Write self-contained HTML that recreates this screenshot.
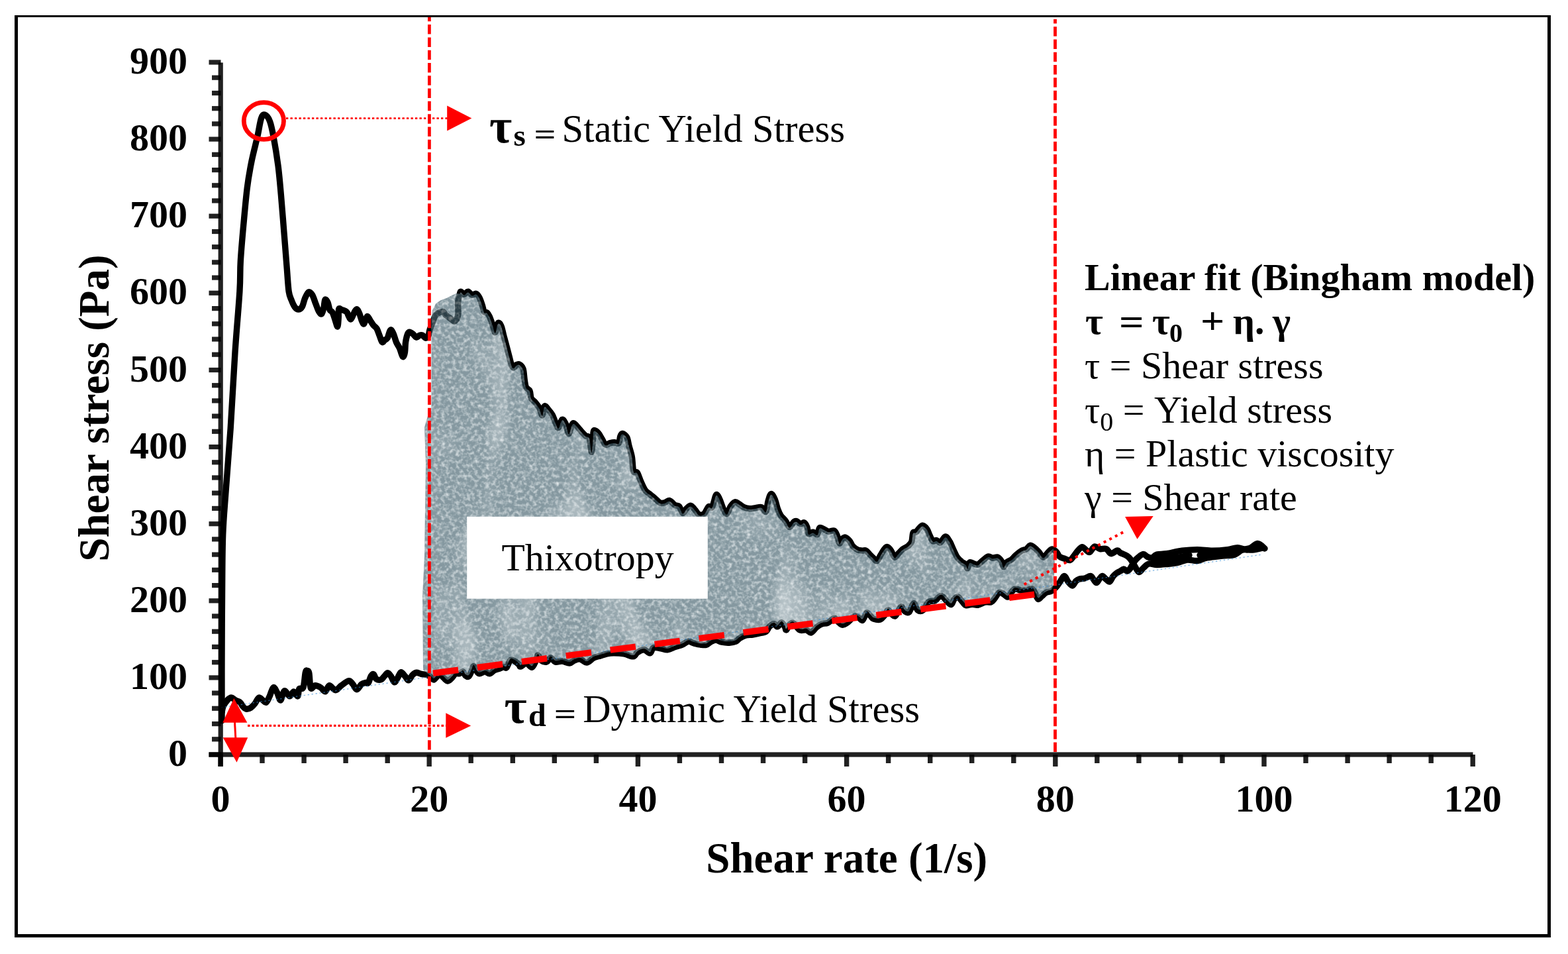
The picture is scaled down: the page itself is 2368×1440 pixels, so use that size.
<!DOCTYPE html>
<html><head><meta charset="utf-8"><style>
html,body{margin:0;padding:0;background:#fff;width:2368px;height:1440px;overflow:hidden}
svg{display:block}
text{font-family:"Liberation Serif","DejaVu Serif",serif;fill:#000}
.b{font-weight:bold}
</style></head><body>
<svg width="2368" height="1440" viewBox="0 0 2368 1440">
<rect x="0" y="0" width="2368" height="1440" fill="#fff"/>
<rect x="22" y="23" width="5" height="1392" fill="#000"/>
<rect x="22" y="23" width="2320" height="3" fill="#000"/>
<rect x="2337" y="23" width="5" height="1392" fill="#000"/>
<rect x="22" y="1410" width="2320" height="5" fill="#000"/>

<!-- black curves -->
<g fill="none" stroke="#000" stroke-width="9.4" stroke-linejoin="round" stroke-linecap="round">
<path d="M335.0,1088.0 C335.0,1086.3 335.0,1092.7 335.0,1078.0 C335.0,1063.3 334.9,1029.7 335.0,1000.0 C335.1,970.3 335.2,932.2 335.5,900.0 C335.8,867.8 335.7,834.0 336.7,807.0 C337.7,780.0 339.4,765.0 341.3,738.2 C343.2,711.4 345.9,680.8 348.2,646.4 C350.5,612.0 352.7,566.1 355.0,531.7 C357.3,497.3 360.5,462.9 361.9,440.0 C363.3,417.1 362.3,411.2 363.3,394.4 C364.3,377.5 366.1,357.4 367.8,338.9 C369.5,320.4 371.3,299.2 373.3,283.3 C375.3,267.4 377.4,256.2 380.0,243.3 C382.6,230.4 386.5,216.4 388.9,205.6 C391.3,194.8 392.6,184.0 394.5,178.6 C396.4,173.2 397.8,172.4 400.0,173.2 C402.2,174.0 405.4,177.5 407.6,183.3 C409.8,189.1 411.2,196.7 413.3,207.8 C415.4,218.9 418.1,235.6 420.0,250.0 C421.9,264.4 422.9,277.7 424.4,294.4 C425.9,311.1 427.4,331.5 428.9,350.0 C430.4,368.5 432.1,390.6 433.3,405.6 C434.5,420.7 435.0,432.3 436.2,440.3 C437.4,448.3 438.8,449.5 440.3,453.4 C441.8,457.3 443.5,461.3 445.3,463.6 C447.1,465.9 449.0,467.3 450.9,467.1 C452.8,466.9 454.9,465.4 456.5,462.6 C458.1,459.8 458.9,454.0 460.5,450.4 C462.1,446.8 464.2,441.6 466.1,440.8 C468.0,440.0 469.9,442.4 471.7,445.3 C473.5,448.2 475.1,454.3 476.8,458.5 C478.5,462.7 480.3,468.2 481.8,470.7 C483.3,473.2 484.7,474.7 485.9,473.7 C487.1,472.7 488.1,468.2 488.9,464.6 C489.7,461.1 489.9,453.8 490.9,452.4 C491.9,451.0 493.8,454.0 495.0,456.5 C496.2,459.0 496.8,465.1 498.0,467.6 C499.2,470.1 500.8,469.2 502.1,471.7 C503.5,474.2 504.8,479.2 506.1,482.8 C507.4,486.4 508.9,493.3 509.7,493.0 C510.5,492.7 510.9,485.2 511.2,480.8 C511.5,476.4 510.9,468.8 511.7,466.6 C512.5,464.4 514.3,466.9 516.3,467.6 C518.2,468.3 521.7,469.2 523.4,470.7 C525.1,472.2 525.3,474.9 526.4,476.8 C527.5,478.7 528.6,482.5 530.0,481.8 C531.4,481.1 533.1,475.2 534.5,472.7 C535.9,470.2 537.2,466.6 538.6,466.6 C540.0,466.6 541.2,469.6 542.6,472.7 C544.0,475.8 545.5,482.2 546.7,484.9 C547.9,487.6 548.7,489.6 549.7,488.9 C550.7,488.2 551.9,482.6 552.8,480.8 C553.7,479.0 554.1,477.1 555.3,477.8 C556.5,478.5 558.5,482.7 559.9,484.9 C561.3,487.1 562.4,489.0 563.9,490.9 C565.4,492.8 567.5,493.5 569.0,496.0 C570.5,498.5 571.6,502.7 573.0,506.1 C574.4,509.5 575.8,515.1 577.1,516.3 C578.5,517.5 579.8,514.2 581.1,513.2 C582.5,512.2 584.0,512.2 585.2,510.2 C586.4,508.2 587.3,503.1 588.2,501.1 C589.1,499.1 589.8,497.5 590.8,498.0 C591.8,498.5 593.0,501.1 594.3,504.1 C595.6,507.2 596.9,512.8 598.4,516.3 C599.9,519.8 602.0,522.4 603.4,525.4 C604.8,528.4 605.6,532.3 606.5,534.5 C607.4,536.7 608.2,539.1 609.0,538.6 C609.8,538.1 610.9,535.2 611.5,531.5 C612.1,527.8 611.9,520.9 612.6,516.3 C613.3,511.7 614.6,506.6 615.6,504.1 C616.6,501.6 617.2,501.1 618.6,501.1 C620.0,501.1 622.0,502.8 623.7,504.1 C625.4,505.5 627.1,508.9 628.8,509.2 C630.5,509.5 632.3,506.6 633.8,506.1 C635.3,505.6 636.4,505.4 637.9,506.1 C639.4,506.8 641.5,510.2 643.0,510.2 C644.5,510.2 646.0,508.1 647.0,506.1 C648.0,504.1 648.0,501.2 649.0,498.0 C650.0,494.8 651.8,490.4 653.2,486.9 C654.6,483.4 655.5,479.3 657.2,476.8 C658.9,474.3 661.3,472.7 663.3,471.7 C665.3,470.7 667.7,470.0 669.4,470.7 C671.1,471.4 671.5,474.0 673.4,475.7 C675.2,477.4 678.3,479.3 680.5,480.8 C682.7,482.3 684.7,485.8 686.6,484.9 C688.5,484.0 690.9,480.6 691.7,475.7 C692.6,470.8 691.2,461.1 691.7,455.5 C692.2,449.9 694.0,444.8 694.7,442.3 C695.5,439.8 695.2,440.0 696.2,440.3 C697.2,440.6 699.0,444.3 700.8,444.3 C702.6,444.3 704.9,440.1 706.9,440.3 C708.9,440.5 711.0,444.8 713.0,445.3 C715.0,445.8 717.2,442.6 719.1,443.3 C721.0,444.0 722.6,446.5 724.1,449.4 C725.6,452.3 727.0,456.9 728.2,460.5 C729.4,464.1 730.0,468.8 731.2,470.7 C732.4,472.6 733.9,470.5 735.3,471.7 C736.6,472.9 737.9,474.9 739.3,477.8 C740.6,480.7 742.2,485.4 743.4,488.9 C744.6,492.4 745.6,497.0 746.4,499.0 C747.2,501.0 747.5,502.8 748.4,501.1 C749.2,499.4 750.5,491.1 751.5,488.9 C752.5,486.7 753.5,487.0 754.5,487.9 C755.5,488.8 756.6,491.0 757.6,494.0 C758.6,497.0 759.4,501.6 760.6,506.1 C761.8,510.7 763.4,516.2 764.7,521.3 C766.1,526.4 767.4,531.5 768.7,536.6 C770.1,541.7 771.6,548.8 772.8,551.8 C774.0,554.8 774.6,555.0 775.8,554.8 C777.0,554.6 778.5,551.5 779.9,550.7 C781.3,549.9 782.7,549.0 784.4,550.0 C786.1,551.0 788.7,552.8 790.0,556.7 C791.3,560.6 791.5,568.7 792.2,573.3 C792.9,577.9 793.1,581.6 794.4,584.4 C795.7,587.2 798.7,587.2 800.0,590.0 C801.3,592.8 800.9,598.3 802.2,601.1 C803.5,603.9 805.8,604.3 807.8,606.7 C809.8,609.1 812.5,612.3 814.4,615.6 C816.2,618.9 817.6,627.1 818.9,626.7 C820.2,626.3 820.7,614.8 822.2,613.3 C823.7,611.8 825.8,615.6 827.8,617.8 C829.8,620.0 832.5,623.4 834.4,626.7 C836.2,630.0 837.4,634.6 838.9,637.8 C840.4,640.9 841.6,646.4 843.3,645.6 C845.0,644.9 847.0,634.2 848.9,633.3 C850.8,632.4 852.7,636.5 854.4,640.0 C856.1,643.5 857.4,654.0 858.9,654.4 C860.4,654.8 862.0,644.8 863.3,642.2 C864.6,639.6 865.0,638.3 866.7,638.9 C868.4,639.5 871.3,643.4 873.3,645.6 C875.3,647.8 877.0,650.2 878.9,652.2 C880.8,654.2 882.5,656.3 884.4,657.8 C886.2,659.3 888.5,657.0 890.0,661.1 C891.5,665.2 892.4,682.0 893.3,682.2 C894.2,682.4 895.0,667.6 895.6,662.2 C896.2,656.8 895.4,651.5 896.7,650.0 C898.0,648.5 901.3,651.3 903.3,653.3 C905.3,655.3 907.0,659.2 908.9,662.2 C910.8,665.2 912.4,670.0 914.4,671.1 C916.4,672.2 918.9,669.5 921.1,668.9 C923.3,668.3 925.6,667.8 927.8,667.8 C930.0,667.8 932.9,670.4 934.4,668.9 C935.9,667.4 935.8,661.3 936.7,658.9 C937.6,656.5 938.3,654.2 940.0,654.4 C941.7,654.6 945.0,656.9 946.7,660.0 C948.4,663.1 948.7,668.3 950.0,673.3 C951.3,678.3 953.3,683.7 954.4,690.0 C955.5,696.3 955.4,707.2 956.7,711.1 C958.0,715.0 960.4,710.7 962.2,713.3 C964.1,715.9 965.8,722.2 967.8,726.7 C969.8,731.2 972.2,736.9 974.4,740.0 C976.6,743.1 978.9,743.8 981.1,745.6 C983.3,747.5 985.2,748.9 987.8,751.1 C990.4,753.3 994.1,757.6 996.7,758.9 C999.3,760.2 1000.9,759.4 1003.3,758.9 C1005.7,758.4 1008.5,755.0 1011.1,755.6 C1013.7,756.2 1016.5,760.7 1018.9,762.2 C1021.3,763.7 1023.6,762.4 1025.6,764.4 C1027.6,766.4 1029.2,773.8 1031.1,774.4 C1032.9,775.0 1034.7,769.6 1036.7,767.8 C1038.7,765.9 1041.1,762.9 1043.3,763.3 C1045.5,763.7 1048.0,767.8 1050.0,770.0 C1052.0,772.2 1053.4,775.8 1055.6,776.7 C1057.8,777.6 1060.9,777.6 1063.3,775.6 C1065.7,773.6 1068.0,766.6 1070.0,765.0 C1072.0,763.4 1073.7,767.2 1075.0,766.0 C1076.3,764.8 1076.9,761.2 1078.0,758.0 C1079.1,754.8 1080.2,747.5 1081.7,746.7 C1083.2,745.9 1085.0,749.8 1086.7,753.3 C1088.5,756.8 1090.4,764.1 1092.2,767.8 C1094.0,771.5 1096.0,776.2 1097.8,775.6 C1099.6,775.0 1101.3,767.4 1103.3,764.4 C1105.3,761.4 1107.8,758.3 1110.0,757.8 C1112.2,757.2 1114.5,759.8 1116.7,761.1 C1118.9,762.4 1120.7,764.5 1123.3,765.6 C1125.9,766.7 1129.2,767.6 1132.2,767.8 C1135.2,768.0 1138.1,767.1 1141.1,766.7 C1144.1,766.3 1147.4,764.7 1150.0,765.6 C1152.6,766.5 1155.0,773.7 1156.7,772.2 C1158.4,770.7 1158.7,761.1 1160.0,756.7 C1161.3,752.3 1162.7,746.2 1164.4,745.6 C1166.1,745.0 1168.3,749.6 1170.0,753.3 C1171.7,757.0 1172.9,763.7 1174.4,767.8 C1175.9,771.9 1176.9,774.6 1178.9,777.8 C1181.0,780.9 1184.5,783.7 1186.7,786.7 C1188.9,789.7 1190.2,795.4 1192.2,795.6 C1194.2,795.8 1197.1,789.3 1198.9,787.8 C1200.8,786.3 1201.6,786.2 1203.3,786.7 C1205.0,787.2 1207.1,790.7 1208.9,791.1 C1210.8,791.5 1212.7,788.1 1214.4,788.9 C1216.1,789.6 1217.8,792.8 1218.9,795.6 C1220.0,798.4 1219.6,804.3 1221.1,805.6 C1222.6,806.9 1225.6,803.1 1227.8,803.3 C1230.0,803.5 1232.7,807.8 1234.4,806.7 C1236.1,805.6 1236.1,798.0 1237.8,796.7 C1239.5,795.4 1242.2,798.0 1244.4,798.9 C1246.6,799.8 1248.5,801.8 1251.1,802.2 C1253.7,802.6 1257.8,800.0 1260.0,801.1 C1262.2,802.2 1263.1,805.8 1264.4,808.9 C1265.7,812.0 1266.5,819.3 1267.8,820.0 C1269.1,820.7 1270.7,814.8 1272.2,813.3 C1273.7,811.8 1274.9,810.5 1276.7,811.1 C1278.5,811.7 1281.5,814.5 1283.3,816.7 C1285.1,818.9 1285.8,822.2 1287.8,824.4 C1289.8,826.6 1293.2,828.9 1295.6,830.0 C1298.0,831.1 1300.2,830.9 1302.2,831.1 C1304.2,831.3 1306.0,830.2 1307.8,831.1 C1309.6,832.0 1311.4,834.9 1313.3,836.7 C1315.2,838.6 1317.1,840.5 1318.9,842.2 C1320.8,843.9 1322.6,847.4 1324.4,846.7 C1326.2,846.0 1328.1,840.8 1330.0,837.8 C1331.9,834.8 1333.9,830.9 1335.6,828.9 C1337.3,826.9 1338.3,825.2 1340.0,825.6 C1341.7,826.0 1343.8,828.5 1345.6,831.1 C1347.4,833.7 1349.2,840.4 1351.1,841.1 C1352.9,841.9 1354.7,837.6 1356.7,835.6 C1358.7,833.6 1360.9,830.8 1363.3,828.9 C1365.7,827.0 1368.9,826.2 1371.1,824.4 C1373.3,822.5 1375.4,821.1 1376.7,817.8 C1378.0,814.5 1377.8,806.8 1378.9,804.4 C1380.0,802.0 1381.8,804.4 1383.3,803.3 C1384.8,802.2 1386.1,799.5 1387.8,797.8 C1389.5,796.1 1391.3,793.1 1393.3,793.3 C1395.3,793.5 1398.2,796.3 1400.0,798.9 C1401.8,801.5 1402.9,805.9 1404.4,808.9 C1405.9,811.9 1407.2,815.6 1408.9,816.7 C1410.6,817.8 1412.6,815.2 1414.4,815.6 C1416.2,816.0 1417.8,819.8 1420.0,818.9 C1422.2,818.0 1425.4,810.2 1427.8,810.0 C1430.2,809.8 1432.4,814.5 1434.4,817.8 C1436.4,821.1 1438.1,826.1 1440.0,830.0 C1441.9,833.9 1443.6,838.1 1445.6,841.1 C1447.6,844.1 1450.0,845.9 1452.2,847.8 C1454.4,849.6 1457.4,850.5 1458.9,852.2 C1460.4,853.9 1460.2,858.3 1461.1,857.8 C1462.0,857.2 1462.7,850.0 1464.4,848.9 C1466.1,847.8 1469.0,850.5 1471.1,851.1 C1473.1,851.7 1474.7,852.9 1476.7,852.2 C1478.7,851.5 1480.7,848.7 1483.3,846.7 C1485.9,844.7 1489.6,840.8 1492.2,840.0 C1494.8,839.2 1496.5,842.0 1498.9,842.2 C1501.3,842.4 1504.5,840.4 1506.7,841.1 C1508.9,841.9 1510.7,844.3 1512.2,846.7 C1513.7,849.1 1514.3,855.2 1515.6,855.6 C1516.9,856.0 1518.0,850.8 1520.0,848.9 C1522.0,847.0 1525.4,846.2 1527.8,844.4 C1530.2,842.5 1531.8,840.0 1534.4,837.8 C1537.0,835.6 1540.7,832.6 1543.3,831.1 C1545.9,829.6 1548.0,830.2 1550.0,828.9 C1552.0,827.6 1553.6,823.7 1555.6,823.3 C1557.6,822.9 1560.0,825.0 1562.2,826.7 C1564.4,828.4 1566.7,830.9 1568.9,833.3 C1571.1,835.7 1573.2,841.1 1575.6,841.1 C1578.0,841.1 1581.1,835.3 1583.3,833.3 C1585.5,831.3 1586.9,828.9 1588.9,828.9 C1591.0,828.9 1593.8,831.4 1595.6,833.3 C1597.4,835.1 1598.0,838.3 1600.0,840.0 C1602.0,841.7 1605.2,842.4 1607.8,843.3 C1610.4,844.2 1613.4,846.1 1615.6,845.6 C1617.8,845.1 1619.1,842.4 1621.1,840.0 C1623.1,837.6 1625.6,833.5 1627.8,831.1 C1630.0,828.7 1632.2,825.6 1634.4,825.6 C1636.6,825.6 1639.2,829.8 1641.1,831.1 C1643.0,832.4 1643.9,834.3 1645.9,833.3 C1647.9,832.3 1650.4,825.8 1653.0,825.0 C1655.6,824.2 1658.3,828.0 1661.3,828.6 C1664.2,829.2 1668.0,827.4 1670.7,828.6 C1673.5,829.8 1675.0,835.3 1677.8,835.7 C1680.6,836.1 1684.9,831.2 1687.3,831.0 C1689.7,830.8 1689.6,833.2 1692.0,834.5 C1694.4,835.8 1698.9,837.0 1701.6,838.8 C1704.3,840.5 1705.9,842.3 1708.0,845.0 C1710.1,847.7 1712.0,851.9 1714.0,855.0 C1716.0,858.1 1717.8,863.2 1720.0,863.5 C1722.2,863.8 1724.5,859.1 1727.0,857.0 C1729.5,854.9 1731.7,851.8 1735.0,851.0 C1738.3,850.2 1742.5,852.4 1747.0,852.5 C1751.5,852.6 1756.8,852.0 1762.0,851.5 C1767.2,851.0 1772.8,850.6 1778.0,849.5 C1783.2,848.4 1788.0,845.5 1793.0,845.0 C1798.0,844.5 1803.0,847.0 1808.0,846.5 C1813.0,846.0 1816.7,843.2 1823.0,842.0 C1829.3,840.8 1839.2,839.8 1846.0,839.0 C1852.8,838.2 1858.9,838.9 1864.0,837.4 C1869.1,835.9 1871.9,831.2 1876.5,830.0 C1881.1,828.8 1886.5,830.5 1891.6,830.0 C1896.6,829.5 1904.3,827.5 1906.8,827.0"/>
<path d="M335.0,1075.0 C335.4,1073.5 335.8,1069.1 337.2,1066.1 C338.6,1063.1 341.3,1059.2 343.3,1057.0 C345.3,1054.8 347.4,1053.0 349.4,1053.0 C351.4,1053.0 353.3,1055.8 355.5,1057.0 C357.7,1058.2 360.8,1058.6 362.6,1060.1 C364.5,1061.6 365.1,1064.4 366.6,1066.1 C368.1,1067.8 369.7,1069.8 371.7,1070.2 C373.7,1070.6 376.6,1069.6 378.8,1068.2 C381.0,1066.8 382.9,1064.6 384.9,1062.1 C386.9,1059.6 388.9,1053.8 390.9,1053.0 C392.9,1052.2 395.1,1055.8 397.0,1057.0 C398.9,1058.2 400.4,1061.1 402.1,1060.1 C403.8,1059.1 405.4,1054.6 407.2,1050.9 C409.0,1047.2 410.8,1038.8 412.7,1037.8 C414.6,1036.8 416.5,1041.7 418.3,1044.9 C420.1,1048.1 421.9,1056.7 423.4,1057.0 C424.9,1057.3 426.2,1049.3 427.4,1046.9 C428.6,1044.5 428.8,1042.1 430.5,1042.8 C432.2,1043.5 435.4,1050.7 437.6,1050.9 C439.8,1051.1 441.6,1043.9 443.6,1043.9 C445.6,1043.9 448.3,1051.6 449.7,1050.9 C451.1,1050.2 450.4,1042.2 451.8,1040.0 C453.2,1037.8 456.4,1041.7 458.0,1037.5 C459.6,1033.3 460.3,1019.2 461.3,1015.0 C462.3,1010.8 462.9,1012.3 463.8,1012.5 C464.7,1012.7 465.9,1011.7 466.8,1016.0 C467.7,1020.3 467.8,1035.4 469.3,1038.5 C470.9,1041.6 473.6,1034.8 476.1,1034.7 C478.6,1034.6 481.7,1036.3 484.2,1037.8 C486.7,1039.3 489.1,1044.4 491.3,1043.9 C493.5,1043.4 494.9,1035.1 497.4,1034.7 C499.9,1034.3 503.5,1041.8 506.5,1041.8 C509.5,1041.8 512.2,1037.1 515.6,1034.7 C519.0,1032.3 523.9,1027.9 526.8,1027.6 C529.7,1027.3 530.8,1030.5 532.8,1032.7 C534.8,1034.9 536.7,1040.8 538.9,1040.8 C541.1,1040.8 543.8,1034.4 546.0,1032.7 C548.2,1031.0 550.3,1030.8 552.0,1030.5 C553.7,1030.2 554.8,1032.5 556.1,1030.9 C557.5,1029.3 558.8,1023.0 560.1,1020.8 C561.5,1018.6 562.9,1017.1 564.2,1017.8 C565.6,1018.5 566.4,1023.6 568.2,1024.9 C570.1,1026.2 573.3,1026.6 575.3,1025.9 C577.3,1025.2 578.7,1022.5 580.4,1020.8 C582.1,1019.1 583.8,1015.7 585.5,1015.7 C587.2,1015.7 588.8,1018.4 590.5,1020.8 C592.2,1023.2 593.9,1029.6 595.6,1029.9 C597.3,1030.2 599.0,1025.3 600.7,1022.8 C602.4,1020.3 603.9,1015.0 605.7,1014.7 C607.6,1014.4 609.9,1018.8 611.8,1020.8 C613.7,1022.8 615.0,1027.2 616.9,1026.9 C618.8,1026.6 621.0,1020.8 623.0,1018.8 C625.0,1016.8 626.8,1015.5 629.0,1015.2 C631.2,1015.0 633.4,1016.7 636.1,1017.3 C638.8,1017.9 642.8,1017.9 645.3,1018.8 C647.8,1019.7 649.6,1021.6 651.3,1022.8 C653.0,1024.0 653.7,1026.4 655.4,1025.9 C657.1,1025.4 659.6,1020.8 661.5,1019.8 C663.4,1018.8 664.2,1018.4 666.6,1019.8 C669.0,1021.1 673.0,1027.4 675.7,1027.9 C678.4,1028.4 680.8,1024.7 682.8,1022.8 C684.8,1020.9 685.9,1017.8 687.8,1016.8 C689.6,1015.8 692.0,1017.3 693.9,1016.8 C695.8,1016.3 697.5,1013.2 699.0,1013.7 C700.5,1014.2 701.5,1018.6 703.0,1019.8 C704.5,1021.0 706.6,1022.0 708.1,1020.8 C709.6,1019.6 711.0,1015.2 712.2,1012.7 C713.4,1010.2 713.9,1005.4 715.2,1005.6 C716.6,1005.8 718.8,1011.8 720.3,1013.7 C721.8,1015.6 722.3,1016.8 724.3,1016.8 C726.3,1016.8 729.9,1013.7 732.4,1013.7 C734.9,1013.7 737.1,1017.1 739.5,1016.8 C741.9,1016.5 744.4,1012.9 746.6,1011.7 C748.8,1010.5 750.3,1010.6 752.7,1009.7 C755.1,1008.9 758.8,1007.0 760.8,1006.6 C762.8,1006.2 763.2,1009.3 764.9,1007.6 C766.6,1005.9 768.7,998.0 770.9,996.5 C773.1,995.0 775.8,997.3 778.0,998.5 C780.2,999.7 782.8,1002.3 784.1,1003.6 C785.5,1004.9 784.2,1006.5 786.1,1006.1 C788.0,1005.7 792.3,1000.9 795.2,1001.1 C798.1,1001.3 800.9,1007.9 803.3,1007.2 C805.7,1006.5 807.9,1000.0 809.4,997.0 C810.9,994.0 811.0,988.9 812.4,988.9 C813.8,988.9 815.3,995.3 817.5,997.0 C819.7,998.7 823.2,999.8 825.6,999.1 C828.0,998.4 829.5,993.0 831.7,993.0 C833.9,993.0 835.9,998.3 838.8,999.1 C841.7,999.9 845.3,997.7 848.9,998.0 C852.5,998.3 857.0,1001.3 860.1,1001.1 C863.2,1000.9 864.5,998.0 867.2,997.0 C869.9,996.0 873.1,994.5 876.3,995.0 C879.5,995.5 883.0,1000.4 886.4,1000.1 C889.8,999.8 893.2,994.7 896.6,993.0 C900.0,991.3 903.3,990.9 906.7,989.9 C910.1,988.9 913.4,987.6 916.8,986.9 C920.2,986.2 922.8,985.9 927.0,985.9 C931.2,985.9 937.3,986.1 942.2,986.9 C947.1,987.7 952.9,991.2 956.3,990.9 C959.7,990.6 959.7,986.6 962.4,984.9 C965.1,983.2 969.4,980.6 972.6,980.8 C975.8,981.0 979.4,986.4 981.7,985.9 C984.1,985.4 984.0,979.0 986.7,977.8 C989.4,976.6 994.4,978.3 997.9,978.8 C1001.4,979.3 1004.3,981.2 1008.0,980.8 C1011.7,980.4 1016.4,977.6 1020.1,976.3 C1023.8,975.0 1027.1,974.6 1030.3,973.2 C1033.5,971.9 1036.4,968.5 1039.4,968.2 C1042.4,967.9 1045.3,970.4 1048.5,971.2 C1051.7,972.0 1055.5,972.9 1058.6,973.2 C1061.6,973.5 1064.4,973.9 1066.8,973.2 C1069.2,972.5 1070.4,970.4 1072.8,969.2 C1075.2,968.0 1078.0,966.1 1080.9,966.1 C1083.8,966.1 1086.7,968.5 1090.1,969.2 C1093.5,969.9 1097.7,970.4 1101.2,970.2 C1104.7,970.0 1108.6,969.4 1111.3,968.2 C1114.0,967.0 1114.9,964.6 1117.4,963.1 C1120.0,961.6 1123.4,960.0 1126.6,959.1 C1129.8,958.2 1133.3,958.5 1136.7,958.0 C1140.1,957.5 1143.4,956.8 1146.8,956.0 C1150.2,955.2 1154.5,954.7 1157.0,953.0 C1159.5,951.3 1160.0,947.8 1162.0,945.9 C1164.0,944.0 1167.1,941.8 1169.1,941.8 C1171.1,941.8 1172.3,946.2 1174.2,945.9 C1176.1,945.6 1178.5,939.8 1180.3,939.8 C1182.1,939.8 1184.1,944.0 1185.3,945.9 C1186.5,947.8 1186.2,951.4 1187.4,950.9 C1188.6,950.4 1190.6,944.5 1192.4,942.8 C1194.2,941.1 1196.0,939.4 1198.5,940.8 C1201.0,942.1 1204.4,949.2 1207.6,950.9 C1210.8,952.6 1214.9,950.2 1217.8,950.9 C1220.7,951.6 1222.4,955.7 1224.9,955.0 C1227.4,954.3 1230.3,949.1 1233.0,946.9 C1235.7,944.7 1238.2,942.9 1241.1,941.8 C1243.9,940.7 1246.9,941.7 1250.1,940.2 C1253.3,938.8 1257.6,933.3 1260.3,933.1 C1263.0,932.9 1264.4,937.5 1266.4,939.2 C1268.4,940.9 1270.1,943.2 1272.4,943.2 C1274.8,943.2 1277.5,941.4 1280.5,939.2 C1283.5,937.0 1287.8,931.1 1290.7,930.1 C1293.6,929.1 1295.8,932.1 1297.8,933.1 C1299.8,934.1 1300.9,937.5 1302.8,936.1 C1304.7,934.8 1306.9,926.0 1308.9,925.0 C1310.9,924.0 1313.3,928.6 1315.0,930.1 C1316.7,931.6 1316.7,933.3 1319.1,934.1 C1321.5,934.9 1326.2,936.3 1329.2,935.1 C1332.2,933.9 1335.3,929.4 1337.3,927.0 C1339.3,924.6 1338.9,920.4 1341.3,920.9 C1343.7,921.4 1348.3,930.9 1351.5,930.1 C1354.7,929.3 1358.1,917.1 1360.6,915.9 C1363.1,914.7 1364.7,921.6 1366.7,923.0 C1368.7,924.4 1370.6,926.0 1372.8,924.0 C1375.0,922.0 1377.7,911.3 1379.9,910.8 C1382.1,910.3 1383.6,919.2 1385.9,920.9 C1388.2,922.6 1391.3,922.9 1394.0,920.9 C1396.7,918.9 1399.2,911.1 1402.2,908.8 C1405.2,906.4 1409.9,907.9 1412.3,906.8 C1414.7,905.7 1415.0,903.4 1416.7,902.2 C1418.4,901.0 1420.1,898.7 1422.4,899.7 C1424.7,900.7 1428.1,905.9 1430.5,908.0 C1432.9,910.1 1434.8,913.1 1436.6,912.5 C1438.4,911.9 1439.4,906.3 1441.1,904.4 C1442.8,902.5 1444.6,900.3 1446.7,901.0 C1448.8,901.7 1451.8,906.7 1453.8,908.8 C1455.8,910.9 1456.6,913.2 1458.9,913.8 C1461.2,914.4 1464.8,912.3 1467.8,912.2 C1470.8,912.1 1473.4,913.8 1476.7,913.3 C1480.0,912.8 1484.5,909.6 1487.8,908.9 C1491.1,908.2 1494.3,909.8 1496.7,908.9 C1499.1,908.0 1500.2,905.7 1502.2,903.3 C1504.2,900.9 1506.7,895.5 1508.9,894.4 C1511.1,893.3 1513.4,895.6 1515.6,896.7 C1517.8,897.8 1520.2,901.7 1522.2,901.1 C1524.2,900.5 1526.0,895.3 1527.8,893.3 C1529.6,891.3 1531.1,889.3 1533.3,888.9 C1535.5,888.5 1538.3,890.7 1541.1,891.1 C1543.9,891.5 1547.0,891.5 1550.0,891.1 C1553.0,890.7 1556.7,888.1 1558.9,888.9 C1561.1,889.6 1561.8,893.0 1563.3,895.6 C1564.8,898.2 1566.1,903.7 1567.8,904.4 C1569.5,905.1 1571.3,901.7 1573.3,900.0 C1575.3,898.3 1577.6,895.7 1580.0,894.4 C1582.4,893.1 1585.3,893.6 1587.8,892.2 C1590.3,890.8 1593.0,888.4 1595.2,886.0 C1597.4,883.6 1599.0,880.8 1601.0,878.0 C1603.0,875.2 1605.4,869.5 1607.4,869.5 C1609.4,869.5 1611.0,875.6 1613.0,878.0 C1615.0,880.4 1617.5,884.2 1619.5,884.0 C1621.5,883.8 1623.2,878.7 1625.0,877.0 C1626.8,875.3 1628.0,874.7 1630.2,874.0 C1632.4,873.3 1635.2,873.8 1638.0,873.0 C1640.8,872.2 1644.7,869.3 1646.9,869.5 C1649.1,869.7 1649.5,872.3 1651.0,874.0 C1652.5,875.7 1654.3,879.7 1656.0,879.5 C1657.7,879.3 1659.5,874.7 1661.0,873.0 C1662.5,871.3 1663.6,869.3 1665.1,869.5 C1666.6,869.7 1668.2,872.6 1670.0,874.0 C1671.8,875.4 1674.0,878.7 1675.8,878.0 C1677.6,877.3 1679.2,872.2 1681.0,870.0 C1682.8,867.8 1684.6,866.3 1686.4,865.0 C1688.2,863.7 1690.2,863.0 1692.0,862.0 C1693.8,861.0 1695.4,859.0 1697.1,859.0 C1698.8,859.0 1700.5,862.0 1702.0,862.0 C1703.5,862.0 1704.7,860.8 1706.2,859.0 C1707.7,857.2 1709.4,853.5 1711.0,851.0 C1712.6,848.5 1713.5,846.4 1716.0,844.0 C1718.5,841.6 1723.2,837.1 1726.0,836.5 C1728.8,835.9 1730.7,839.6 1733.0,840.5 C1735.3,841.4 1737.7,842.6 1740.0,842.0 C1742.3,841.4 1743.3,838.0 1747.0,837.0 C1750.7,836.0 1755.7,836.7 1762.0,835.7 C1768.3,834.7 1777.3,832.2 1785.0,831.2 C1792.7,830.2 1800.3,829.6 1808.0,829.6 C1815.7,829.6 1823.3,831.2 1831.0,831.2 C1838.7,831.2 1847.7,830.4 1854.0,829.6 C1860.3,828.8 1864.0,826.6 1869.0,826.6 C1874.0,826.6 1879.0,830.6 1884.0,829.6 C1889.0,828.6 1894.7,820.8 1899.0,820.5 C1903.3,820.2 1908.2,826.8 1910.0,828.0"/>
<path d="M1742,845 L1760,843 L1780,841 L1796,838"/>
<path d="M1812,838 L1830,836 L1850,834.5 L1870,831 L1895,826"/>
</g>
<!-- gray thixotropy region (scatter) -->
<defs>
<filter id="spk" x="600" y="400" width="1050" height="650" filterUnits="userSpaceOnUse">
<feTurbulence type="fractalNoise" baseFrequency="0.18" numOctaves="2" seed="7"/>
<feColorMatrix type="matrix" values="0 0 0 0 0.72  0 0 0 0 0.78  0 0 0 0 0.80  1.8 0 0 0 -0.74"/>
<feComposite in2="SourceGraphic" operator="in"/>
</filter>
<filter id="blot" x="600" y="400" width="1050" height="650" filterUnits="userSpaceOnUse">
<feTurbulence type="fractalNoise" baseFrequency="0.018 0.008" numOctaves="2" seed="3"/>
<feColorMatrix type="matrix" values="0 0 0 0 0.75  0 0 0 0 0.80  0 0 0 0 0.82  1.4 0 0 0 -0.74"/>
<feComposite in2="SourceGraphic" operator="in"/>
</filter>
</defs>
<g opacity="0.65">
<path d="M639.0,1011.0 L638.0,900.0 L641.0,840.0 L643.0,700.0 L641.0,645.0 L646.0,628.0 L651.5,615.0 L651.5,480.0 L653.0,468.0 L655.0,465.0 L658.0,458.5 L665.0,453.4 L675.5,449.4 L683.6,445.3 L688.6,443.3 L694.7,443.5 C695.0,443.2 695.2,441.2 696.2,441.5 C697.2,441.8 699.0,445.5 700.8,445.5 C702.6,445.5 704.9,441.3 706.9,441.5 C708.9,441.7 711.0,446.0 713.0,446.5 C715.0,447.0 717.2,443.8 719.1,444.5 C721.0,445.2 722.6,447.7 724.1,450.6 C725.6,453.5 727.0,458.1 728.2,461.7 C729.4,465.2 730.0,470.0 731.2,471.9 C732.4,473.8 733.9,471.7 735.3,472.9 C736.6,474.1 737.9,476.1 739.3,479.0 C740.6,481.9 742.2,486.6 743.4,490.1 C744.6,493.6 745.6,498.2 746.4,500.2 C747.2,502.2 747.5,504.0 748.4,502.3 C749.2,500.6 750.5,492.3 751.5,490.1 C752.5,487.9 753.5,488.2 754.5,489.1 C755.5,489.9 756.6,492.2 757.6,495.2 C758.6,498.2 759.4,502.8 760.6,507.3 C761.8,511.9 763.4,517.4 764.7,522.5 C766.1,527.6 767.4,532.7 768.7,537.8 C770.1,542.9 771.6,550.0 772.8,553.0 C774.0,556.0 774.6,556.2 775.8,556.0 C777.0,555.8 778.5,552.7 779.9,551.9 C781.3,551.1 782.7,550.2 784.4,551.2 C786.1,552.2 788.7,554.0 790.0,557.9 C791.3,561.8 791.5,569.9 792.2,574.5 C792.9,579.1 793.1,582.8 794.4,585.6 C795.7,588.4 798.7,588.4 800.0,591.2 C801.3,594.0 800.9,599.5 802.2,602.3 C803.5,605.1 805.8,605.5 807.8,607.9 C809.8,610.3 812.5,613.5 814.4,616.8 C816.2,620.1 817.6,628.3 818.9,627.9 C820.2,627.5 820.7,616.0 822.2,614.5 C823.7,613.0 825.8,616.8 827.8,619.0 C829.8,621.2 832.5,624.6 834.4,627.9 C836.2,631.2 837.4,635.9 838.9,639.0 C840.4,642.1 841.6,647.6 843.3,646.8 C845.0,646.1 847.0,635.4 848.9,634.5 C850.8,633.6 852.7,637.7 854.4,641.2 C856.1,644.7 857.4,655.2 858.9,655.6 C860.4,656.0 862.0,646.0 863.3,643.4 C864.6,640.8 865.0,639.5 866.7,640.1 C868.4,640.7 871.3,644.6 873.3,646.8 C875.3,649.0 877.0,651.4 878.9,653.4 C880.8,655.4 882.5,657.5 884.4,659.0 C886.2,660.5 888.5,658.2 890.0,662.3 C891.5,666.4 892.4,683.2 893.3,683.4 C894.2,683.6 895.0,668.8 895.6,663.4 C896.2,658.0 895.4,652.7 896.7,651.2 C898.0,649.7 901.3,652.5 903.3,654.5 C905.3,656.5 907.0,660.4 908.9,663.4 C910.8,666.4 912.4,671.2 914.4,672.3 C916.4,673.4 918.9,670.7 921.1,670.1 C923.3,669.5 925.6,669.0 927.8,669.0 C930.0,669.0 932.9,671.6 934.4,670.1 C935.9,668.6 935.8,662.5 936.7,660.1 C937.6,657.7 938.3,655.4 940.0,655.6 C941.7,655.8 945.0,658.1 946.7,661.2 C948.4,664.4 948.7,669.5 950.0,674.5 C951.3,679.5 953.3,684.9 954.4,691.2 C955.5,697.5 955.4,708.4 956.7,712.3 C958.0,716.2 960.4,711.9 962.2,714.5 C964.1,717.1 965.8,723.5 967.8,727.9 C969.8,732.4 972.2,738.1 974.4,741.2 C976.6,744.4 978.9,745.0 981.1,746.8 C983.3,748.7 985.2,750.1 987.8,752.3 C990.4,754.5 994.1,758.8 996.7,760.1 C999.3,761.4 1000.9,760.6 1003.3,760.1 C1005.7,759.6 1008.5,756.2 1011.1,756.8 C1013.7,757.4 1016.5,761.9 1018.9,763.4 C1021.3,764.9 1023.6,763.6 1025.6,765.6 C1027.6,767.6 1029.2,775.0 1031.1,775.6 C1032.9,776.2 1034.7,770.9 1036.7,769.0 C1038.7,767.1 1041.1,764.1 1043.3,764.5 C1045.5,764.9 1048.0,769.0 1050.0,771.2 C1052.0,773.4 1053.4,777.0 1055.6,777.9 C1057.8,778.8 1060.9,778.8 1063.3,776.8 C1065.7,774.9 1068.0,767.8 1070.0,766.2 C1072.0,764.6 1073.7,768.4 1075.0,767.2 C1076.3,766.0 1076.9,762.4 1078.0,759.2 C1079.1,756.0 1080.2,748.7 1081.7,747.9 C1083.2,747.1 1085.0,751.0 1086.7,754.5 C1088.5,758.0 1090.4,765.3 1092.2,769.0 C1094.0,772.7 1096.0,777.4 1097.8,776.8 C1099.6,776.2 1101.3,768.6 1103.3,765.6 C1105.3,762.6 1107.8,759.5 1110.0,759.0 C1112.2,758.5 1114.5,761.0 1116.7,762.3 C1118.9,763.6 1120.7,765.7 1123.3,766.8 C1125.9,767.9 1129.2,768.8 1132.2,769.0 C1135.2,769.2 1138.1,768.3 1141.1,767.9 C1144.1,767.5 1147.4,765.9 1150.0,766.8 C1152.6,767.7 1155.0,774.9 1156.7,773.4 C1158.4,771.9 1158.7,762.3 1160.0,757.9 C1161.3,753.5 1162.7,747.4 1164.4,746.8 C1166.1,746.2 1168.3,750.8 1170.0,754.5 C1171.7,758.2 1172.9,764.9 1174.4,769.0 C1175.9,773.1 1176.9,775.9 1178.9,779.0 C1181.0,782.1 1184.5,784.9 1186.7,787.9 C1188.9,790.9 1190.2,796.6 1192.2,796.8 C1194.2,797.0 1197.1,790.5 1198.9,789.0 C1200.8,787.5 1201.6,787.4 1203.3,787.9 C1205.0,788.5 1207.1,791.9 1208.9,792.3 C1210.8,792.7 1212.7,789.4 1214.4,790.1 C1216.1,790.9 1217.8,794.0 1218.9,796.8 C1220.0,799.6 1219.6,805.5 1221.1,806.8 C1222.6,808.1 1225.6,804.3 1227.8,804.5 C1230.0,804.7 1232.7,809.0 1234.4,807.9 C1236.1,806.8 1236.1,799.2 1237.8,797.9 C1239.5,796.6 1242.2,799.2 1244.4,800.1 C1246.6,801.0 1248.5,803.0 1251.1,803.4 C1253.7,803.8 1257.8,801.2 1260.0,802.3 C1262.2,803.4 1263.1,807.0 1264.4,810.1 C1265.7,813.2 1266.5,820.5 1267.8,821.2 C1269.1,821.9 1270.7,816.0 1272.2,814.5 C1273.7,813.0 1274.9,811.7 1276.7,812.3 C1278.5,812.9 1281.5,815.7 1283.3,817.9 C1285.1,820.1 1285.8,823.4 1287.8,825.6 C1289.8,827.8 1293.2,830.1 1295.6,831.2 C1298.0,832.3 1300.2,832.1 1302.2,832.3 C1304.2,832.5 1306.0,831.4 1307.8,832.3 C1309.6,833.2 1311.4,836.1 1313.3,837.9 C1315.2,839.8 1317.1,841.7 1318.9,843.4 C1320.8,845.1 1322.6,848.6 1324.4,847.9 C1326.2,847.2 1328.1,842.0 1330.0,839.0 C1331.9,836.0 1333.9,832.1 1335.6,830.1 C1337.3,828.1 1338.3,826.4 1340.0,826.8 C1341.7,827.2 1343.8,829.7 1345.6,832.3 C1347.4,834.9 1349.2,841.6 1351.1,842.3 C1352.9,843.1 1354.7,838.8 1356.7,836.8 C1358.7,834.8 1360.9,832.0 1363.3,830.1 C1365.7,828.2 1368.9,827.5 1371.1,825.6 C1373.3,823.8 1375.4,822.3 1376.7,819.0 C1378.0,815.7 1377.8,808.0 1378.9,805.6 C1380.0,803.2 1381.8,805.6 1383.3,804.5 C1384.8,803.4 1386.1,800.7 1387.8,799.0 C1389.5,797.3 1391.3,794.3 1393.3,794.5 C1395.3,794.7 1398.2,797.5 1400.0,800.1 C1401.8,802.7 1402.9,807.1 1404.4,810.1 C1405.9,813.1 1407.2,816.8 1408.9,817.9 C1410.6,819.0 1412.6,816.4 1414.4,816.8 C1416.2,817.2 1417.8,821.0 1420.0,820.1 C1422.2,819.2 1425.4,811.4 1427.8,811.2 C1430.2,811.0 1432.4,815.7 1434.4,819.0 C1436.4,822.3 1438.1,827.3 1440.0,831.2 C1441.9,835.1 1443.6,839.3 1445.6,842.3 C1447.6,845.3 1450.0,847.1 1452.2,849.0 C1454.4,850.9 1457.4,851.7 1458.9,853.4 C1460.4,855.1 1460.2,859.5 1461.1,859.0 C1462.0,858.5 1462.7,851.2 1464.4,850.1 C1466.1,849.0 1469.0,851.8 1471.1,852.3 C1473.1,852.9 1474.7,854.1 1476.7,853.4 C1478.7,852.7 1480.7,849.9 1483.3,847.9 C1485.9,845.9 1489.6,842.0 1492.2,841.2 C1494.8,840.5 1496.5,843.2 1498.9,843.4 C1501.3,843.6 1504.5,841.6 1506.7,842.3 C1508.9,843.1 1510.7,845.5 1512.2,847.9 C1513.7,850.3 1514.3,856.4 1515.6,856.8 C1516.9,857.2 1518.0,852.0 1520.0,850.1 C1522.0,848.2 1525.4,847.5 1527.8,845.6 C1530.2,843.8 1531.8,841.2 1534.4,839.0 C1537.0,836.8 1540.7,833.8 1543.3,832.3 C1545.9,830.8 1548.0,831.4 1550.0,830.1 C1552.0,828.8 1553.6,824.9 1555.6,824.5 C1557.6,824.1 1560.0,826.2 1562.2,827.9 C1564.4,829.6 1566.7,832.1 1568.9,834.5 C1571.1,836.9 1573.2,842.3 1575.6,842.3 C1578.0,842.3 1582.0,835.8 1583.3,834.5 L1591.0,828.0 L1593.0,850.0 L1592.0,870.0 L1590.0,886.0 L1587.8,890.2 C1586.5,890.6 1582.4,891.1 1580.0,892.4 C1577.6,893.7 1575.3,896.3 1573.3,898.0 C1571.3,899.7 1569.5,903.1 1567.8,902.4 C1566.1,901.7 1564.8,896.2 1563.3,893.6 C1561.8,891.0 1561.1,887.6 1558.9,886.9 C1556.7,886.1 1553.0,888.7 1550.0,889.1 C1547.0,889.5 1543.9,889.5 1541.1,889.1 C1538.3,888.7 1535.5,886.5 1533.3,886.9 C1531.1,887.3 1529.6,889.3 1527.8,891.3 C1526.0,893.3 1524.2,898.5 1522.2,899.1 C1520.2,899.7 1517.8,895.8 1515.6,894.7 C1513.4,893.6 1511.1,891.3 1508.9,892.4 C1506.7,893.5 1504.2,898.9 1502.2,901.3 C1500.2,903.7 1499.1,906.0 1496.7,906.9 C1494.3,907.8 1491.1,906.2 1487.8,906.9 C1484.5,907.6 1480.0,910.8 1476.7,911.3 C1473.4,911.8 1470.8,910.1 1467.8,910.2 C1464.8,910.3 1461.2,912.4 1458.9,911.8 C1456.6,911.2 1455.8,908.9 1453.8,906.8 C1451.8,904.7 1448.8,899.7 1446.7,899.0 C1444.6,898.3 1442.8,900.5 1441.1,902.4 C1439.4,904.3 1438.4,909.9 1436.6,910.5 C1434.8,911.1 1432.9,908.1 1430.5,906.0 C1428.1,903.9 1424.7,898.7 1422.4,897.7 C1420.1,896.7 1418.4,899.0 1416.7,900.2 C1415.0,901.4 1414.7,903.7 1412.3,904.8 C1409.9,905.9 1405.2,904.4 1402.2,906.8 C1399.2,909.1 1396.7,916.9 1394.0,918.9 C1391.3,920.9 1388.2,920.6 1385.9,918.9 C1383.6,917.2 1382.1,908.3 1379.9,908.8 C1377.7,909.3 1375.0,920.0 1372.8,922.0 C1370.6,924.0 1368.7,922.4 1366.7,921.0 C1364.7,919.6 1363.1,912.7 1360.6,913.9 C1358.1,915.1 1354.7,927.3 1351.5,928.1 C1348.3,928.9 1343.7,919.4 1341.3,918.9 C1338.9,918.4 1339.3,922.6 1337.3,925.0 C1335.3,927.4 1332.2,931.9 1329.2,933.1 C1326.2,934.3 1321.5,932.9 1319.1,932.1 C1316.7,931.3 1316.7,929.6 1315.0,928.1 C1313.3,926.6 1310.9,922.0 1308.9,923.0 C1306.9,924.0 1304.7,932.8 1302.8,934.1 C1300.9,935.5 1299.8,932.1 1297.8,931.1 C1295.8,930.1 1293.6,927.1 1290.7,928.1 C1287.8,929.1 1283.5,935.0 1280.5,937.2 C1277.5,939.4 1274.8,941.2 1272.4,941.2 C1270.1,941.2 1268.4,938.9 1266.4,937.2 C1264.4,935.5 1263.0,930.9 1260.3,931.1 C1257.6,931.3 1253.3,936.8 1250.1,938.2 C1246.9,939.7 1243.9,938.7 1241.1,939.8 C1238.2,940.9 1235.7,942.7 1233.0,944.9 C1230.3,947.1 1227.4,952.3 1224.9,953.0 C1222.4,953.7 1220.7,949.6 1217.8,948.9 C1214.9,948.2 1210.8,950.6 1207.6,948.9 C1204.4,947.2 1201.0,940.1 1198.5,938.8 C1196.0,937.4 1194.2,939.1 1192.4,940.8 C1190.6,942.5 1188.6,948.4 1187.4,948.9 C1186.2,949.4 1186.5,945.8 1185.3,943.9 C1184.1,942.0 1182.1,937.8 1180.3,937.8 C1178.5,937.8 1176.1,943.6 1174.2,943.9 C1172.3,944.2 1171.1,939.8 1169.1,939.8 C1167.1,939.8 1164.0,942.0 1162.0,943.9 C1160.0,945.8 1159.5,949.3 1157.0,951.0 C1154.5,952.7 1150.2,953.2 1146.8,954.0 C1143.4,954.8 1140.1,955.5 1136.7,956.0 C1133.3,956.5 1129.8,956.2 1126.6,957.1 C1123.4,958.0 1120.0,959.6 1117.4,961.1 C1114.9,962.6 1114.0,965.0 1111.3,966.2 C1108.6,967.4 1104.7,968.0 1101.2,968.2 C1097.7,968.4 1093.5,967.9 1090.1,967.2 C1086.7,966.5 1083.8,964.1 1080.9,964.1 C1078.0,964.1 1075.2,966.0 1072.8,967.2 C1070.4,968.4 1069.2,970.5 1066.8,971.2 C1064.4,971.9 1061.6,971.5 1058.6,971.2 C1055.5,970.9 1051.7,970.0 1048.5,969.2 C1045.3,968.4 1042.4,965.9 1039.4,966.2 C1036.4,966.5 1033.5,969.9 1030.3,971.2 C1027.1,972.6 1023.8,973.0 1020.1,974.3 C1016.4,975.6 1011.7,978.4 1008.0,978.8 C1004.3,979.2 1001.4,977.3 997.9,976.8 C994.4,976.3 989.4,974.6 986.7,975.8 C984.0,977.0 984.1,983.4 981.7,983.9 C979.4,984.4 975.8,979.0 972.6,978.8 C969.4,978.6 965.1,981.2 962.4,982.9 C959.7,984.6 959.7,988.6 956.3,988.9 C952.9,989.2 947.1,985.7 942.2,984.9 C937.3,984.1 931.2,983.9 927.0,983.9 C922.8,983.9 920.2,984.2 916.8,984.9 C913.4,985.6 910.1,986.9 906.7,987.9 C903.3,988.9 900.0,989.3 896.6,991.0 C893.2,992.7 889.8,997.8 886.4,998.1 C883.0,998.4 879.5,993.5 876.3,993.0 C873.1,992.5 869.9,994.0 867.2,995.0 C864.5,996.0 863.2,998.9 860.1,999.1 C857.0,999.3 852.5,996.3 848.9,996.0 C845.3,995.7 841.7,997.9 838.8,997.1 C835.9,996.3 833.9,991.0 831.7,991.0 C829.5,991.0 828.0,996.4 825.6,997.1 C823.2,997.8 819.7,996.7 817.5,995.0 C815.3,993.3 813.8,986.9 812.4,986.9 C811.0,986.9 810.9,992.0 809.4,995.0 C807.9,998.0 805.7,1004.5 803.3,1005.2 C800.9,1005.9 798.1,999.3 795.2,999.1 C792.3,998.9 788.0,1003.7 786.1,1004.1 C784.2,1004.5 785.5,1002.9 784.1,1001.6 C782.8,1000.3 780.2,997.7 778.0,996.5 C775.8,995.3 773.1,993.0 770.9,994.5 C768.7,996.0 766.6,1003.9 764.9,1005.6 C763.2,1007.3 762.8,1004.2 760.8,1004.6 C758.8,1005.0 755.1,1006.9 752.7,1007.7 C750.3,1008.6 748.8,1008.5 746.6,1009.7 C744.4,1010.9 741.9,1014.5 739.5,1014.8 C737.1,1015.1 734.9,1011.7 732.4,1011.7 C729.9,1011.7 726.3,1014.8 724.3,1014.8 C722.3,1014.8 721.8,1013.6 720.3,1011.7 C718.8,1009.8 716.6,1003.8 715.2,1003.6 C713.9,1003.4 713.4,1008.2 712.2,1010.7 C711.0,1013.2 709.6,1017.6 708.1,1018.8 C706.6,1020.0 704.5,1019.0 703.0,1017.8 C701.5,1016.6 700.5,1012.2 699.0,1011.7 C697.5,1011.2 695.8,1014.3 693.9,1014.8 C692.0,1015.3 689.6,1013.8 687.8,1014.8 C685.9,1015.8 684.8,1018.9 682.8,1020.8 C680.8,1022.6 678.4,1026.4 675.7,1025.9 C673.0,1025.4 669.0,1019.1 666.6,1017.8 C664.2,1016.4 663.4,1016.8 661.5,1017.8 C659.6,1018.8 657.1,1023.4 655.4,1023.9 C653.7,1024.4 652.0,1021.3 651.3,1020.8 Z" fill="rgb(68,98,110)"/>
<path d="M639.0,1011.0 L638.0,900.0 L641.0,840.0 L643.0,700.0 L641.0,645.0 L646.0,628.0 L651.5,615.0 L651.5,480.0 L653.0,468.0 L655.0,465.0 L658.0,458.5 L665.0,453.4 L675.5,449.4 L683.6,445.3 L688.6,443.3 L694.7,443.5 C695.0,443.2 695.2,441.2 696.2,441.5 C697.2,441.8 699.0,445.5 700.8,445.5 C702.6,445.5 704.9,441.3 706.9,441.5 C708.9,441.7 711.0,446.0 713.0,446.5 C715.0,447.0 717.2,443.8 719.1,444.5 C721.0,445.2 722.6,447.7 724.1,450.6 C725.6,453.5 727.0,458.1 728.2,461.7 C729.4,465.2 730.0,470.0 731.2,471.9 C732.4,473.8 733.9,471.7 735.3,472.9 C736.6,474.1 737.9,476.1 739.3,479.0 C740.6,481.9 742.2,486.6 743.4,490.1 C744.6,493.6 745.6,498.2 746.4,500.2 C747.2,502.2 747.5,504.0 748.4,502.3 C749.2,500.6 750.5,492.3 751.5,490.1 C752.5,487.9 753.5,488.2 754.5,489.1 C755.5,489.9 756.6,492.2 757.6,495.2 C758.6,498.2 759.4,502.8 760.6,507.3 C761.8,511.9 763.4,517.4 764.7,522.5 C766.1,527.6 767.4,532.7 768.7,537.8 C770.1,542.9 771.6,550.0 772.8,553.0 C774.0,556.0 774.6,556.2 775.8,556.0 C777.0,555.8 778.5,552.7 779.9,551.9 C781.3,551.1 782.7,550.2 784.4,551.2 C786.1,552.2 788.7,554.0 790.0,557.9 C791.3,561.8 791.5,569.9 792.2,574.5 C792.9,579.1 793.1,582.8 794.4,585.6 C795.7,588.4 798.7,588.4 800.0,591.2 C801.3,594.0 800.9,599.5 802.2,602.3 C803.5,605.1 805.8,605.5 807.8,607.9 C809.8,610.3 812.5,613.5 814.4,616.8 C816.2,620.1 817.6,628.3 818.9,627.9 C820.2,627.5 820.7,616.0 822.2,614.5 C823.7,613.0 825.8,616.8 827.8,619.0 C829.8,621.2 832.5,624.6 834.4,627.9 C836.2,631.2 837.4,635.9 838.9,639.0 C840.4,642.1 841.6,647.6 843.3,646.8 C845.0,646.1 847.0,635.4 848.9,634.5 C850.8,633.6 852.7,637.7 854.4,641.2 C856.1,644.7 857.4,655.2 858.9,655.6 C860.4,656.0 862.0,646.0 863.3,643.4 C864.6,640.8 865.0,639.5 866.7,640.1 C868.4,640.7 871.3,644.6 873.3,646.8 C875.3,649.0 877.0,651.4 878.9,653.4 C880.8,655.4 882.5,657.5 884.4,659.0 C886.2,660.5 888.5,658.2 890.0,662.3 C891.5,666.4 892.4,683.2 893.3,683.4 C894.2,683.6 895.0,668.8 895.6,663.4 C896.2,658.0 895.4,652.7 896.7,651.2 C898.0,649.7 901.3,652.5 903.3,654.5 C905.3,656.5 907.0,660.4 908.9,663.4 C910.8,666.4 912.4,671.2 914.4,672.3 C916.4,673.4 918.9,670.7 921.1,670.1 C923.3,669.5 925.6,669.0 927.8,669.0 C930.0,669.0 932.9,671.6 934.4,670.1 C935.9,668.6 935.8,662.5 936.7,660.1 C937.6,657.7 938.3,655.4 940.0,655.6 C941.7,655.8 945.0,658.1 946.7,661.2 C948.4,664.4 948.7,669.5 950.0,674.5 C951.3,679.5 953.3,684.9 954.4,691.2 C955.5,697.5 955.4,708.4 956.7,712.3 C958.0,716.2 960.4,711.9 962.2,714.5 C964.1,717.1 965.8,723.5 967.8,727.9 C969.8,732.4 972.2,738.1 974.4,741.2 C976.6,744.4 978.9,745.0 981.1,746.8 C983.3,748.7 985.2,750.1 987.8,752.3 C990.4,754.5 994.1,758.8 996.7,760.1 C999.3,761.4 1000.9,760.6 1003.3,760.1 C1005.7,759.6 1008.5,756.2 1011.1,756.8 C1013.7,757.4 1016.5,761.9 1018.9,763.4 C1021.3,764.9 1023.6,763.6 1025.6,765.6 C1027.6,767.6 1029.2,775.0 1031.1,775.6 C1032.9,776.2 1034.7,770.9 1036.7,769.0 C1038.7,767.1 1041.1,764.1 1043.3,764.5 C1045.5,764.9 1048.0,769.0 1050.0,771.2 C1052.0,773.4 1053.4,777.0 1055.6,777.9 C1057.8,778.8 1060.9,778.8 1063.3,776.8 C1065.7,774.9 1068.0,767.8 1070.0,766.2 C1072.0,764.6 1073.7,768.4 1075.0,767.2 C1076.3,766.0 1076.9,762.4 1078.0,759.2 C1079.1,756.0 1080.2,748.7 1081.7,747.9 C1083.2,747.1 1085.0,751.0 1086.7,754.5 C1088.5,758.0 1090.4,765.3 1092.2,769.0 C1094.0,772.7 1096.0,777.4 1097.8,776.8 C1099.6,776.2 1101.3,768.6 1103.3,765.6 C1105.3,762.6 1107.8,759.5 1110.0,759.0 C1112.2,758.5 1114.5,761.0 1116.7,762.3 C1118.9,763.6 1120.7,765.7 1123.3,766.8 C1125.9,767.9 1129.2,768.8 1132.2,769.0 C1135.2,769.2 1138.1,768.3 1141.1,767.9 C1144.1,767.5 1147.4,765.9 1150.0,766.8 C1152.6,767.7 1155.0,774.9 1156.7,773.4 C1158.4,771.9 1158.7,762.3 1160.0,757.9 C1161.3,753.5 1162.7,747.4 1164.4,746.8 C1166.1,746.2 1168.3,750.8 1170.0,754.5 C1171.7,758.2 1172.9,764.9 1174.4,769.0 C1175.9,773.1 1176.9,775.9 1178.9,779.0 C1181.0,782.1 1184.5,784.9 1186.7,787.9 C1188.9,790.9 1190.2,796.6 1192.2,796.8 C1194.2,797.0 1197.1,790.5 1198.9,789.0 C1200.8,787.5 1201.6,787.4 1203.3,787.9 C1205.0,788.5 1207.1,791.9 1208.9,792.3 C1210.8,792.7 1212.7,789.4 1214.4,790.1 C1216.1,790.9 1217.8,794.0 1218.9,796.8 C1220.0,799.6 1219.6,805.5 1221.1,806.8 C1222.6,808.1 1225.6,804.3 1227.8,804.5 C1230.0,804.7 1232.7,809.0 1234.4,807.9 C1236.1,806.8 1236.1,799.2 1237.8,797.9 C1239.5,796.6 1242.2,799.2 1244.4,800.1 C1246.6,801.0 1248.5,803.0 1251.1,803.4 C1253.7,803.8 1257.8,801.2 1260.0,802.3 C1262.2,803.4 1263.1,807.0 1264.4,810.1 C1265.7,813.2 1266.5,820.5 1267.8,821.2 C1269.1,821.9 1270.7,816.0 1272.2,814.5 C1273.7,813.0 1274.9,811.7 1276.7,812.3 C1278.5,812.9 1281.5,815.7 1283.3,817.9 C1285.1,820.1 1285.8,823.4 1287.8,825.6 C1289.8,827.8 1293.2,830.1 1295.6,831.2 C1298.0,832.3 1300.2,832.1 1302.2,832.3 C1304.2,832.5 1306.0,831.4 1307.8,832.3 C1309.6,833.2 1311.4,836.1 1313.3,837.9 C1315.2,839.8 1317.1,841.7 1318.9,843.4 C1320.8,845.1 1322.6,848.6 1324.4,847.9 C1326.2,847.2 1328.1,842.0 1330.0,839.0 C1331.9,836.0 1333.9,832.1 1335.6,830.1 C1337.3,828.1 1338.3,826.4 1340.0,826.8 C1341.7,827.2 1343.8,829.7 1345.6,832.3 C1347.4,834.9 1349.2,841.6 1351.1,842.3 C1352.9,843.1 1354.7,838.8 1356.7,836.8 C1358.7,834.8 1360.9,832.0 1363.3,830.1 C1365.7,828.2 1368.9,827.5 1371.1,825.6 C1373.3,823.8 1375.4,822.3 1376.7,819.0 C1378.0,815.7 1377.8,808.0 1378.9,805.6 C1380.0,803.2 1381.8,805.6 1383.3,804.5 C1384.8,803.4 1386.1,800.7 1387.8,799.0 C1389.5,797.3 1391.3,794.3 1393.3,794.5 C1395.3,794.7 1398.2,797.5 1400.0,800.1 C1401.8,802.7 1402.9,807.1 1404.4,810.1 C1405.9,813.1 1407.2,816.8 1408.9,817.9 C1410.6,819.0 1412.6,816.4 1414.4,816.8 C1416.2,817.2 1417.8,821.0 1420.0,820.1 C1422.2,819.2 1425.4,811.4 1427.8,811.2 C1430.2,811.0 1432.4,815.7 1434.4,819.0 C1436.4,822.3 1438.1,827.3 1440.0,831.2 C1441.9,835.1 1443.6,839.3 1445.6,842.3 C1447.6,845.3 1450.0,847.1 1452.2,849.0 C1454.4,850.9 1457.4,851.7 1458.9,853.4 C1460.4,855.1 1460.2,859.5 1461.1,859.0 C1462.0,858.5 1462.7,851.2 1464.4,850.1 C1466.1,849.0 1469.0,851.8 1471.1,852.3 C1473.1,852.9 1474.7,854.1 1476.7,853.4 C1478.7,852.7 1480.7,849.9 1483.3,847.9 C1485.9,845.9 1489.6,842.0 1492.2,841.2 C1494.8,840.5 1496.5,843.2 1498.9,843.4 C1501.3,843.6 1504.5,841.6 1506.7,842.3 C1508.9,843.1 1510.7,845.5 1512.2,847.9 C1513.7,850.3 1514.3,856.4 1515.6,856.8 C1516.9,857.2 1518.0,852.0 1520.0,850.1 C1522.0,848.2 1525.4,847.5 1527.8,845.6 C1530.2,843.8 1531.8,841.2 1534.4,839.0 C1537.0,836.8 1540.7,833.8 1543.3,832.3 C1545.9,830.8 1548.0,831.4 1550.0,830.1 C1552.0,828.8 1553.6,824.9 1555.6,824.5 C1557.6,824.1 1560.0,826.2 1562.2,827.9 C1564.4,829.6 1566.7,832.1 1568.9,834.5 C1571.1,836.9 1573.2,842.3 1575.6,842.3 C1578.0,842.3 1582.0,835.8 1583.3,834.5 L1591.0,828.0 L1593.0,850.0 L1592.0,870.0 L1590.0,886.0 L1587.8,890.2 C1586.5,890.6 1582.4,891.1 1580.0,892.4 C1577.6,893.7 1575.3,896.3 1573.3,898.0 C1571.3,899.7 1569.5,903.1 1567.8,902.4 C1566.1,901.7 1564.8,896.2 1563.3,893.6 C1561.8,891.0 1561.1,887.6 1558.9,886.9 C1556.7,886.1 1553.0,888.7 1550.0,889.1 C1547.0,889.5 1543.9,889.5 1541.1,889.1 C1538.3,888.7 1535.5,886.5 1533.3,886.9 C1531.1,887.3 1529.6,889.3 1527.8,891.3 C1526.0,893.3 1524.2,898.5 1522.2,899.1 C1520.2,899.7 1517.8,895.8 1515.6,894.7 C1513.4,893.6 1511.1,891.3 1508.9,892.4 C1506.7,893.5 1504.2,898.9 1502.2,901.3 C1500.2,903.7 1499.1,906.0 1496.7,906.9 C1494.3,907.8 1491.1,906.2 1487.8,906.9 C1484.5,907.6 1480.0,910.8 1476.7,911.3 C1473.4,911.8 1470.8,910.1 1467.8,910.2 C1464.8,910.3 1461.2,912.4 1458.9,911.8 C1456.6,911.2 1455.8,908.9 1453.8,906.8 C1451.8,904.7 1448.8,899.7 1446.7,899.0 C1444.6,898.3 1442.8,900.5 1441.1,902.4 C1439.4,904.3 1438.4,909.9 1436.6,910.5 C1434.8,911.1 1432.9,908.1 1430.5,906.0 C1428.1,903.9 1424.7,898.7 1422.4,897.7 C1420.1,896.7 1418.4,899.0 1416.7,900.2 C1415.0,901.4 1414.7,903.7 1412.3,904.8 C1409.9,905.9 1405.2,904.4 1402.2,906.8 C1399.2,909.1 1396.7,916.9 1394.0,918.9 C1391.3,920.9 1388.2,920.6 1385.9,918.9 C1383.6,917.2 1382.1,908.3 1379.9,908.8 C1377.7,909.3 1375.0,920.0 1372.8,922.0 C1370.6,924.0 1368.7,922.4 1366.7,921.0 C1364.7,919.6 1363.1,912.7 1360.6,913.9 C1358.1,915.1 1354.7,927.3 1351.5,928.1 C1348.3,928.9 1343.7,919.4 1341.3,918.9 C1338.9,918.4 1339.3,922.6 1337.3,925.0 C1335.3,927.4 1332.2,931.9 1329.2,933.1 C1326.2,934.3 1321.5,932.9 1319.1,932.1 C1316.7,931.3 1316.7,929.6 1315.0,928.1 C1313.3,926.6 1310.9,922.0 1308.9,923.0 C1306.9,924.0 1304.7,932.8 1302.8,934.1 C1300.9,935.5 1299.8,932.1 1297.8,931.1 C1295.8,930.1 1293.6,927.1 1290.7,928.1 C1287.8,929.1 1283.5,935.0 1280.5,937.2 C1277.5,939.4 1274.8,941.2 1272.4,941.2 C1270.1,941.2 1268.4,938.9 1266.4,937.2 C1264.4,935.5 1263.0,930.9 1260.3,931.1 C1257.6,931.3 1253.3,936.8 1250.1,938.2 C1246.9,939.7 1243.9,938.7 1241.1,939.8 C1238.2,940.9 1235.7,942.7 1233.0,944.9 C1230.3,947.1 1227.4,952.3 1224.9,953.0 C1222.4,953.7 1220.7,949.6 1217.8,948.9 C1214.9,948.2 1210.8,950.6 1207.6,948.9 C1204.4,947.2 1201.0,940.1 1198.5,938.8 C1196.0,937.4 1194.2,939.1 1192.4,940.8 C1190.6,942.5 1188.6,948.4 1187.4,948.9 C1186.2,949.4 1186.5,945.8 1185.3,943.9 C1184.1,942.0 1182.1,937.8 1180.3,937.8 C1178.5,937.8 1176.1,943.6 1174.2,943.9 C1172.3,944.2 1171.1,939.8 1169.1,939.8 C1167.1,939.8 1164.0,942.0 1162.0,943.9 C1160.0,945.8 1159.5,949.3 1157.0,951.0 C1154.5,952.7 1150.2,953.2 1146.8,954.0 C1143.4,954.8 1140.1,955.5 1136.7,956.0 C1133.3,956.5 1129.8,956.2 1126.6,957.1 C1123.4,958.0 1120.0,959.6 1117.4,961.1 C1114.9,962.6 1114.0,965.0 1111.3,966.2 C1108.6,967.4 1104.7,968.0 1101.2,968.2 C1097.7,968.4 1093.5,967.9 1090.1,967.2 C1086.7,966.5 1083.8,964.1 1080.9,964.1 C1078.0,964.1 1075.2,966.0 1072.8,967.2 C1070.4,968.4 1069.2,970.5 1066.8,971.2 C1064.4,971.9 1061.6,971.5 1058.6,971.2 C1055.5,970.9 1051.7,970.0 1048.5,969.2 C1045.3,968.4 1042.4,965.9 1039.4,966.2 C1036.4,966.5 1033.5,969.9 1030.3,971.2 C1027.1,972.6 1023.8,973.0 1020.1,974.3 C1016.4,975.6 1011.7,978.4 1008.0,978.8 C1004.3,979.2 1001.4,977.3 997.9,976.8 C994.4,976.3 989.4,974.6 986.7,975.8 C984.0,977.0 984.1,983.4 981.7,983.9 C979.4,984.4 975.8,979.0 972.6,978.8 C969.4,978.6 965.1,981.2 962.4,982.9 C959.7,984.6 959.7,988.6 956.3,988.9 C952.9,989.2 947.1,985.7 942.2,984.9 C937.3,984.1 931.2,983.9 927.0,983.9 C922.8,983.9 920.2,984.2 916.8,984.9 C913.4,985.6 910.1,986.9 906.7,987.9 C903.3,988.9 900.0,989.3 896.6,991.0 C893.2,992.7 889.8,997.8 886.4,998.1 C883.0,998.4 879.5,993.5 876.3,993.0 C873.1,992.5 869.9,994.0 867.2,995.0 C864.5,996.0 863.2,998.9 860.1,999.1 C857.0,999.3 852.5,996.3 848.9,996.0 C845.3,995.7 841.7,997.9 838.8,997.1 C835.9,996.3 833.9,991.0 831.7,991.0 C829.5,991.0 828.0,996.4 825.6,997.1 C823.2,997.8 819.7,996.7 817.5,995.0 C815.3,993.3 813.8,986.9 812.4,986.9 C811.0,986.9 810.9,992.0 809.4,995.0 C807.9,998.0 805.7,1004.5 803.3,1005.2 C800.9,1005.9 798.1,999.3 795.2,999.1 C792.3,998.9 788.0,1003.7 786.1,1004.1 C784.2,1004.5 785.5,1002.9 784.1,1001.6 C782.8,1000.3 780.2,997.7 778.0,996.5 C775.8,995.3 773.1,993.0 770.9,994.5 C768.7,996.0 766.6,1003.9 764.9,1005.6 C763.2,1007.3 762.8,1004.2 760.8,1004.6 C758.8,1005.0 755.1,1006.9 752.7,1007.7 C750.3,1008.6 748.8,1008.5 746.6,1009.7 C744.4,1010.9 741.9,1014.5 739.5,1014.8 C737.1,1015.1 734.9,1011.7 732.4,1011.7 C729.9,1011.7 726.3,1014.8 724.3,1014.8 C722.3,1014.8 721.8,1013.6 720.3,1011.7 C718.8,1009.8 716.6,1003.8 715.2,1003.6 C713.9,1003.4 713.4,1008.2 712.2,1010.7 C711.0,1013.2 709.6,1017.6 708.1,1018.8 C706.6,1020.0 704.5,1019.0 703.0,1017.8 C701.5,1016.6 700.5,1012.2 699.0,1011.7 C697.5,1011.2 695.8,1014.3 693.9,1014.8 C692.0,1015.3 689.6,1013.8 687.8,1014.8 C685.9,1015.8 684.8,1018.9 682.8,1020.8 C680.8,1022.6 678.4,1026.4 675.7,1025.9 C673.0,1025.4 669.0,1019.1 666.6,1017.8 C664.2,1016.4 663.4,1016.8 661.5,1017.8 C659.6,1018.8 657.1,1023.4 655.4,1023.9 C653.7,1024.4 652.0,1021.3 651.3,1020.8 Z" fill="#000" filter="url(#blot)"/>
<path d="M639.0,1011.0 L638.0,900.0 L641.0,840.0 L643.0,700.0 L641.0,645.0 L646.0,628.0 L651.5,615.0 L651.5,480.0 L653.0,468.0 L655.0,465.0 L658.0,458.5 L665.0,453.4 L675.5,449.4 L683.6,445.3 L688.6,443.3 L694.7,443.5 C695.0,443.2 695.2,441.2 696.2,441.5 C697.2,441.8 699.0,445.5 700.8,445.5 C702.6,445.5 704.9,441.3 706.9,441.5 C708.9,441.7 711.0,446.0 713.0,446.5 C715.0,447.0 717.2,443.8 719.1,444.5 C721.0,445.2 722.6,447.7 724.1,450.6 C725.6,453.5 727.0,458.1 728.2,461.7 C729.4,465.2 730.0,470.0 731.2,471.9 C732.4,473.8 733.9,471.7 735.3,472.9 C736.6,474.1 737.9,476.1 739.3,479.0 C740.6,481.9 742.2,486.6 743.4,490.1 C744.6,493.6 745.6,498.2 746.4,500.2 C747.2,502.2 747.5,504.0 748.4,502.3 C749.2,500.6 750.5,492.3 751.5,490.1 C752.5,487.9 753.5,488.2 754.5,489.1 C755.5,489.9 756.6,492.2 757.6,495.2 C758.6,498.2 759.4,502.8 760.6,507.3 C761.8,511.9 763.4,517.4 764.7,522.5 C766.1,527.6 767.4,532.7 768.7,537.8 C770.1,542.9 771.6,550.0 772.8,553.0 C774.0,556.0 774.6,556.2 775.8,556.0 C777.0,555.8 778.5,552.7 779.9,551.9 C781.3,551.1 782.7,550.2 784.4,551.2 C786.1,552.2 788.7,554.0 790.0,557.9 C791.3,561.8 791.5,569.9 792.2,574.5 C792.9,579.1 793.1,582.8 794.4,585.6 C795.7,588.4 798.7,588.4 800.0,591.2 C801.3,594.0 800.9,599.5 802.2,602.3 C803.5,605.1 805.8,605.5 807.8,607.9 C809.8,610.3 812.5,613.5 814.4,616.8 C816.2,620.1 817.6,628.3 818.9,627.9 C820.2,627.5 820.7,616.0 822.2,614.5 C823.7,613.0 825.8,616.8 827.8,619.0 C829.8,621.2 832.5,624.6 834.4,627.9 C836.2,631.2 837.4,635.9 838.9,639.0 C840.4,642.1 841.6,647.6 843.3,646.8 C845.0,646.1 847.0,635.4 848.9,634.5 C850.8,633.6 852.7,637.7 854.4,641.2 C856.1,644.7 857.4,655.2 858.9,655.6 C860.4,656.0 862.0,646.0 863.3,643.4 C864.6,640.8 865.0,639.5 866.7,640.1 C868.4,640.7 871.3,644.6 873.3,646.8 C875.3,649.0 877.0,651.4 878.9,653.4 C880.8,655.4 882.5,657.5 884.4,659.0 C886.2,660.5 888.5,658.2 890.0,662.3 C891.5,666.4 892.4,683.2 893.3,683.4 C894.2,683.6 895.0,668.8 895.6,663.4 C896.2,658.0 895.4,652.7 896.7,651.2 C898.0,649.7 901.3,652.5 903.3,654.5 C905.3,656.5 907.0,660.4 908.9,663.4 C910.8,666.4 912.4,671.2 914.4,672.3 C916.4,673.4 918.9,670.7 921.1,670.1 C923.3,669.5 925.6,669.0 927.8,669.0 C930.0,669.0 932.9,671.6 934.4,670.1 C935.9,668.6 935.8,662.5 936.7,660.1 C937.6,657.7 938.3,655.4 940.0,655.6 C941.7,655.8 945.0,658.1 946.7,661.2 C948.4,664.4 948.7,669.5 950.0,674.5 C951.3,679.5 953.3,684.9 954.4,691.2 C955.5,697.5 955.4,708.4 956.7,712.3 C958.0,716.2 960.4,711.9 962.2,714.5 C964.1,717.1 965.8,723.5 967.8,727.9 C969.8,732.4 972.2,738.1 974.4,741.2 C976.6,744.4 978.9,745.0 981.1,746.8 C983.3,748.7 985.2,750.1 987.8,752.3 C990.4,754.5 994.1,758.8 996.7,760.1 C999.3,761.4 1000.9,760.6 1003.3,760.1 C1005.7,759.6 1008.5,756.2 1011.1,756.8 C1013.7,757.4 1016.5,761.9 1018.9,763.4 C1021.3,764.9 1023.6,763.6 1025.6,765.6 C1027.6,767.6 1029.2,775.0 1031.1,775.6 C1032.9,776.2 1034.7,770.9 1036.7,769.0 C1038.7,767.1 1041.1,764.1 1043.3,764.5 C1045.5,764.9 1048.0,769.0 1050.0,771.2 C1052.0,773.4 1053.4,777.0 1055.6,777.9 C1057.8,778.8 1060.9,778.8 1063.3,776.8 C1065.7,774.9 1068.0,767.8 1070.0,766.2 C1072.0,764.6 1073.7,768.4 1075.0,767.2 C1076.3,766.0 1076.9,762.4 1078.0,759.2 C1079.1,756.0 1080.2,748.7 1081.7,747.9 C1083.2,747.1 1085.0,751.0 1086.7,754.5 C1088.5,758.0 1090.4,765.3 1092.2,769.0 C1094.0,772.7 1096.0,777.4 1097.8,776.8 C1099.6,776.2 1101.3,768.6 1103.3,765.6 C1105.3,762.6 1107.8,759.5 1110.0,759.0 C1112.2,758.5 1114.5,761.0 1116.7,762.3 C1118.9,763.6 1120.7,765.7 1123.3,766.8 C1125.9,767.9 1129.2,768.8 1132.2,769.0 C1135.2,769.2 1138.1,768.3 1141.1,767.9 C1144.1,767.5 1147.4,765.9 1150.0,766.8 C1152.6,767.7 1155.0,774.9 1156.7,773.4 C1158.4,771.9 1158.7,762.3 1160.0,757.9 C1161.3,753.5 1162.7,747.4 1164.4,746.8 C1166.1,746.2 1168.3,750.8 1170.0,754.5 C1171.7,758.2 1172.9,764.9 1174.4,769.0 C1175.9,773.1 1176.9,775.9 1178.9,779.0 C1181.0,782.1 1184.5,784.9 1186.7,787.9 C1188.9,790.9 1190.2,796.6 1192.2,796.8 C1194.2,797.0 1197.1,790.5 1198.9,789.0 C1200.8,787.5 1201.6,787.4 1203.3,787.9 C1205.0,788.5 1207.1,791.9 1208.9,792.3 C1210.8,792.7 1212.7,789.4 1214.4,790.1 C1216.1,790.9 1217.8,794.0 1218.9,796.8 C1220.0,799.6 1219.6,805.5 1221.1,806.8 C1222.6,808.1 1225.6,804.3 1227.8,804.5 C1230.0,804.7 1232.7,809.0 1234.4,807.9 C1236.1,806.8 1236.1,799.2 1237.8,797.9 C1239.5,796.6 1242.2,799.2 1244.4,800.1 C1246.6,801.0 1248.5,803.0 1251.1,803.4 C1253.7,803.8 1257.8,801.2 1260.0,802.3 C1262.2,803.4 1263.1,807.0 1264.4,810.1 C1265.7,813.2 1266.5,820.5 1267.8,821.2 C1269.1,821.9 1270.7,816.0 1272.2,814.5 C1273.7,813.0 1274.9,811.7 1276.7,812.3 C1278.5,812.9 1281.5,815.7 1283.3,817.9 C1285.1,820.1 1285.8,823.4 1287.8,825.6 C1289.8,827.8 1293.2,830.1 1295.6,831.2 C1298.0,832.3 1300.2,832.1 1302.2,832.3 C1304.2,832.5 1306.0,831.4 1307.8,832.3 C1309.6,833.2 1311.4,836.1 1313.3,837.9 C1315.2,839.8 1317.1,841.7 1318.9,843.4 C1320.8,845.1 1322.6,848.6 1324.4,847.9 C1326.2,847.2 1328.1,842.0 1330.0,839.0 C1331.9,836.0 1333.9,832.1 1335.6,830.1 C1337.3,828.1 1338.3,826.4 1340.0,826.8 C1341.7,827.2 1343.8,829.7 1345.6,832.3 C1347.4,834.9 1349.2,841.6 1351.1,842.3 C1352.9,843.1 1354.7,838.8 1356.7,836.8 C1358.7,834.8 1360.9,832.0 1363.3,830.1 C1365.7,828.2 1368.9,827.5 1371.1,825.6 C1373.3,823.8 1375.4,822.3 1376.7,819.0 C1378.0,815.7 1377.8,808.0 1378.9,805.6 C1380.0,803.2 1381.8,805.6 1383.3,804.5 C1384.8,803.4 1386.1,800.7 1387.8,799.0 C1389.5,797.3 1391.3,794.3 1393.3,794.5 C1395.3,794.7 1398.2,797.5 1400.0,800.1 C1401.8,802.7 1402.9,807.1 1404.4,810.1 C1405.9,813.1 1407.2,816.8 1408.9,817.9 C1410.6,819.0 1412.6,816.4 1414.4,816.8 C1416.2,817.2 1417.8,821.0 1420.0,820.1 C1422.2,819.2 1425.4,811.4 1427.8,811.2 C1430.2,811.0 1432.4,815.7 1434.4,819.0 C1436.4,822.3 1438.1,827.3 1440.0,831.2 C1441.9,835.1 1443.6,839.3 1445.6,842.3 C1447.6,845.3 1450.0,847.1 1452.2,849.0 C1454.4,850.9 1457.4,851.7 1458.9,853.4 C1460.4,855.1 1460.2,859.5 1461.1,859.0 C1462.0,858.5 1462.7,851.2 1464.4,850.1 C1466.1,849.0 1469.0,851.8 1471.1,852.3 C1473.1,852.9 1474.7,854.1 1476.7,853.4 C1478.7,852.7 1480.7,849.9 1483.3,847.9 C1485.9,845.9 1489.6,842.0 1492.2,841.2 C1494.8,840.5 1496.5,843.2 1498.9,843.4 C1501.3,843.6 1504.5,841.6 1506.7,842.3 C1508.9,843.1 1510.7,845.5 1512.2,847.9 C1513.7,850.3 1514.3,856.4 1515.6,856.8 C1516.9,857.2 1518.0,852.0 1520.0,850.1 C1522.0,848.2 1525.4,847.5 1527.8,845.6 C1530.2,843.8 1531.8,841.2 1534.4,839.0 C1537.0,836.8 1540.7,833.8 1543.3,832.3 C1545.9,830.8 1548.0,831.4 1550.0,830.1 C1552.0,828.8 1553.6,824.9 1555.6,824.5 C1557.6,824.1 1560.0,826.2 1562.2,827.9 C1564.4,829.6 1566.7,832.1 1568.9,834.5 C1571.1,836.9 1573.2,842.3 1575.6,842.3 C1578.0,842.3 1582.0,835.8 1583.3,834.5 L1591.0,828.0 L1593.0,850.0 L1592.0,870.0 L1590.0,886.0 L1587.8,890.2 C1586.5,890.6 1582.4,891.1 1580.0,892.4 C1577.6,893.7 1575.3,896.3 1573.3,898.0 C1571.3,899.7 1569.5,903.1 1567.8,902.4 C1566.1,901.7 1564.8,896.2 1563.3,893.6 C1561.8,891.0 1561.1,887.6 1558.9,886.9 C1556.7,886.1 1553.0,888.7 1550.0,889.1 C1547.0,889.5 1543.9,889.5 1541.1,889.1 C1538.3,888.7 1535.5,886.5 1533.3,886.9 C1531.1,887.3 1529.6,889.3 1527.8,891.3 C1526.0,893.3 1524.2,898.5 1522.2,899.1 C1520.2,899.7 1517.8,895.8 1515.6,894.7 C1513.4,893.6 1511.1,891.3 1508.9,892.4 C1506.7,893.5 1504.2,898.9 1502.2,901.3 C1500.2,903.7 1499.1,906.0 1496.7,906.9 C1494.3,907.8 1491.1,906.2 1487.8,906.9 C1484.5,907.6 1480.0,910.8 1476.7,911.3 C1473.4,911.8 1470.8,910.1 1467.8,910.2 C1464.8,910.3 1461.2,912.4 1458.9,911.8 C1456.6,911.2 1455.8,908.9 1453.8,906.8 C1451.8,904.7 1448.8,899.7 1446.7,899.0 C1444.6,898.3 1442.8,900.5 1441.1,902.4 C1439.4,904.3 1438.4,909.9 1436.6,910.5 C1434.8,911.1 1432.9,908.1 1430.5,906.0 C1428.1,903.9 1424.7,898.7 1422.4,897.7 C1420.1,896.7 1418.4,899.0 1416.7,900.2 C1415.0,901.4 1414.7,903.7 1412.3,904.8 C1409.9,905.9 1405.2,904.4 1402.2,906.8 C1399.2,909.1 1396.7,916.9 1394.0,918.9 C1391.3,920.9 1388.2,920.6 1385.9,918.9 C1383.6,917.2 1382.1,908.3 1379.9,908.8 C1377.7,909.3 1375.0,920.0 1372.8,922.0 C1370.6,924.0 1368.7,922.4 1366.7,921.0 C1364.7,919.6 1363.1,912.7 1360.6,913.9 C1358.1,915.1 1354.7,927.3 1351.5,928.1 C1348.3,928.9 1343.7,919.4 1341.3,918.9 C1338.9,918.4 1339.3,922.6 1337.3,925.0 C1335.3,927.4 1332.2,931.9 1329.2,933.1 C1326.2,934.3 1321.5,932.9 1319.1,932.1 C1316.7,931.3 1316.7,929.6 1315.0,928.1 C1313.3,926.6 1310.9,922.0 1308.9,923.0 C1306.9,924.0 1304.7,932.8 1302.8,934.1 C1300.9,935.5 1299.8,932.1 1297.8,931.1 C1295.8,930.1 1293.6,927.1 1290.7,928.1 C1287.8,929.1 1283.5,935.0 1280.5,937.2 C1277.5,939.4 1274.8,941.2 1272.4,941.2 C1270.1,941.2 1268.4,938.9 1266.4,937.2 C1264.4,935.5 1263.0,930.9 1260.3,931.1 C1257.6,931.3 1253.3,936.8 1250.1,938.2 C1246.9,939.7 1243.9,938.7 1241.1,939.8 C1238.2,940.9 1235.7,942.7 1233.0,944.9 C1230.3,947.1 1227.4,952.3 1224.9,953.0 C1222.4,953.7 1220.7,949.6 1217.8,948.9 C1214.9,948.2 1210.8,950.6 1207.6,948.9 C1204.4,947.2 1201.0,940.1 1198.5,938.8 C1196.0,937.4 1194.2,939.1 1192.4,940.8 C1190.6,942.5 1188.6,948.4 1187.4,948.9 C1186.2,949.4 1186.5,945.8 1185.3,943.9 C1184.1,942.0 1182.1,937.8 1180.3,937.8 C1178.5,937.8 1176.1,943.6 1174.2,943.9 C1172.3,944.2 1171.1,939.8 1169.1,939.8 C1167.1,939.8 1164.0,942.0 1162.0,943.9 C1160.0,945.8 1159.5,949.3 1157.0,951.0 C1154.5,952.7 1150.2,953.2 1146.8,954.0 C1143.4,954.8 1140.1,955.5 1136.7,956.0 C1133.3,956.5 1129.8,956.2 1126.6,957.1 C1123.4,958.0 1120.0,959.6 1117.4,961.1 C1114.9,962.6 1114.0,965.0 1111.3,966.2 C1108.6,967.4 1104.7,968.0 1101.2,968.2 C1097.7,968.4 1093.5,967.9 1090.1,967.2 C1086.7,966.5 1083.8,964.1 1080.9,964.1 C1078.0,964.1 1075.2,966.0 1072.8,967.2 C1070.4,968.4 1069.2,970.5 1066.8,971.2 C1064.4,971.9 1061.6,971.5 1058.6,971.2 C1055.5,970.9 1051.7,970.0 1048.5,969.2 C1045.3,968.4 1042.4,965.9 1039.4,966.2 C1036.4,966.5 1033.5,969.9 1030.3,971.2 C1027.1,972.6 1023.8,973.0 1020.1,974.3 C1016.4,975.6 1011.7,978.4 1008.0,978.8 C1004.3,979.2 1001.4,977.3 997.9,976.8 C994.4,976.3 989.4,974.6 986.7,975.8 C984.0,977.0 984.1,983.4 981.7,983.9 C979.4,984.4 975.8,979.0 972.6,978.8 C969.4,978.6 965.1,981.2 962.4,982.9 C959.7,984.6 959.7,988.6 956.3,988.9 C952.9,989.2 947.1,985.7 942.2,984.9 C937.3,984.1 931.2,983.9 927.0,983.9 C922.8,983.9 920.2,984.2 916.8,984.9 C913.4,985.6 910.1,986.9 906.7,987.9 C903.3,988.9 900.0,989.3 896.6,991.0 C893.2,992.7 889.8,997.8 886.4,998.1 C883.0,998.4 879.5,993.5 876.3,993.0 C873.1,992.5 869.9,994.0 867.2,995.0 C864.5,996.0 863.2,998.9 860.1,999.1 C857.0,999.3 852.5,996.3 848.9,996.0 C845.3,995.7 841.7,997.9 838.8,997.1 C835.9,996.3 833.9,991.0 831.7,991.0 C829.5,991.0 828.0,996.4 825.6,997.1 C823.2,997.8 819.7,996.7 817.5,995.0 C815.3,993.3 813.8,986.9 812.4,986.9 C811.0,986.9 810.9,992.0 809.4,995.0 C807.9,998.0 805.7,1004.5 803.3,1005.2 C800.9,1005.9 798.1,999.3 795.2,999.1 C792.3,998.9 788.0,1003.7 786.1,1004.1 C784.2,1004.5 785.5,1002.9 784.1,1001.6 C782.8,1000.3 780.2,997.7 778.0,996.5 C775.8,995.3 773.1,993.0 770.9,994.5 C768.7,996.0 766.6,1003.9 764.9,1005.6 C763.2,1007.3 762.8,1004.2 760.8,1004.6 C758.8,1005.0 755.1,1006.9 752.7,1007.7 C750.3,1008.6 748.8,1008.5 746.6,1009.7 C744.4,1010.9 741.9,1014.5 739.5,1014.8 C737.1,1015.1 734.9,1011.7 732.4,1011.7 C729.9,1011.7 726.3,1014.8 724.3,1014.8 C722.3,1014.8 721.8,1013.6 720.3,1011.7 C718.8,1009.8 716.6,1003.8 715.2,1003.6 C713.9,1003.4 713.4,1008.2 712.2,1010.7 C711.0,1013.2 709.6,1017.6 708.1,1018.8 C706.6,1020.0 704.5,1019.0 703.0,1017.8 C701.5,1016.6 700.5,1012.2 699.0,1011.7 C697.5,1011.2 695.8,1014.3 693.9,1014.8 C692.0,1015.3 689.6,1013.8 687.8,1014.8 C685.9,1015.8 684.8,1018.9 682.8,1020.8 C680.8,1022.6 678.4,1026.4 675.7,1025.9 C673.0,1025.4 669.0,1019.1 666.6,1017.8 C664.2,1016.4 663.4,1016.8 661.5,1017.8 C659.6,1018.8 657.1,1023.4 655.4,1023.9 C653.7,1024.4 652.0,1021.3 651.3,1020.8 Z" fill="#000" filter="url(#spk)"/>
</g>
<!-- blue fit dotted -->
<line x1="334" y1="1068" x2="1906" y2="837" stroke="#3d8fd6" stroke-width="1.4" stroke-dasharray="2.5 3.5" opacity="0.6"/>
<!-- red fit dashed -->
<line x1="654" y1="1016.2" x2="1562.5" y2="897.2" stroke="#f00" stroke-width="9.5" stroke-dasharray="38.5 29"/>
<!-- white box -->
<rect x="705.2" y="779.9" width="363.6" height="123.8" fill="#fff"/>
<text x="757.5" y="860.7" font-size="57.8">Thixotropy</text>
<!-- vertical red dashed lines -->
<g stroke="#f00" stroke-width="4.8" stroke-dasharray="14.5 4.79">
<line x1="648.4" y1="26" x2="648.4" y2="1134" stroke-dashoffset="8.19"/>
<line x1="1593.5" y1="29" x2="1593.5" y2="1136" stroke-dashoffset="8.1"/>
</g>
<!-- static yield annotation -->
<ellipse cx="398.4" cy="182.5" rx="30.1" ry="27.8" fill="none" stroke="#f00" stroke-width="6.8"/>
<line x1="432" y1="178.65" x2="676" y2="178.65" stroke="#f00" stroke-width="2.9" stroke-dasharray="3.3 3.2"/>
<polygon points="675.2,159.4 675.2,197.4 712.3,178.5" fill="#f00"/>
<!-- dynamic yield annotation -->
<line x1="374" y1="1095.4" x2="674" y2="1095.4" stroke="#f00" stroke-width="3.3" stroke-dasharray="3.5 3"/>
<polygon points="673.3,1076.2 673.3,1113.8 711.2,1095.4" fill="#f00"/>
<!-- diagonal dotted arrow -->
<line x1="1546.7" y1="882.2" x2="1701" y2="800.8" stroke="#f00" stroke-width="4" stroke-dasharray="4 5.7"/>
<polygon points="1699.1,780.1 1741.7,778.9 1717.5,813.8" fill="#f00"/>
<!-- annotations text -->
<text class="b" x="739" y="215" font-size="74">τ</text>
<text class="b" x="775.5" y="219.5" font-size="47">s</text>
<text class="b" transform="translate(806.5,217.2) scale(1.32,1)" font-size="44">=</text>
<text x="848.6" y="214.2" font-size="58.6">Static Yield Stress</text>
<text class="b" x="761.5" y="1090.5" font-size="74">τ</text>
<text class="b" x="798" y="1095.8" font-size="48">d</text>
<text class="b" transform="translate(836.8,1092) scale(1.34,1)" font-size="44">=</text>
<text x="880.2" y="1089.9" font-size="58.6">Dynamic Yield Stress</text>
<!-- legend -->
<text class="b" x="1638" y="437.8" font-size="58">Linear fit (Bingham model)</text>
<text class="b" x="1639" y="504" font-size="58">τ</text>
<text class="b" transform="translate(1690,505) scale(1.14,1)" font-size="58">=</text>
<text class="b" x="1740" y="504" font-size="58">τ</text>
<text class="b" x="1766" y="516" font-size="40">0</text>
<text class="b" transform="translate(1813,504) scale(1.1,1)" font-size="58">+</text>
<text class="b" x="1862" y="504" font-size="58">η.</text>
<text class="b" x="1922" y="504" font-size="58">γ</text>
<g font-size="58">
<text x="1638" y="570.7">τ = Shear stress</text>
<text x="1638" y="638.2">τ<tspan font-size="40" dy="12">0</tspan><tspan dy="-12"> = Yield stress</tspan></text>
<text x="1638" y="703.7">η = Plastic viscosity</text>
<text x="1638" y="770.2">γ = Shear rate</text>
</g>

<g fill="rgba(0,0,0,0.87)">
<rect x="329.6" y="94.5" width="7.2" height="1062.5"/>
<rect x="315.5" y="1135.4" width="1909" height="7.2"/>
<rect x="315.5" y="1135.4" width="18" height="7.2"/>
<rect x="320" y="1112.2" width="13.5" height="7.2"/>
<rect x="320" y="1089.0" width="13.5" height="7.2"/>
<rect x="320" y="1065.7" width="13.5" height="7.2"/>
<rect x="320" y="1042.5" width="13.5" height="7.2"/>
<rect x="315.5" y="1019.3" width="18" height="7.2"/>
<rect x="320" y="996.1" width="13.5" height="7.2"/>
<rect x="320" y="972.8" width="13.5" height="7.2"/>
<rect x="320" y="949.6" width="13.5" height="7.2"/>
<rect x="320" y="926.4" width="13.5" height="7.2"/>
<rect x="315.5" y="903.2" width="18" height="7.2"/>
<rect x="320" y="880.0" width="13.5" height="7.2"/>
<rect x="320" y="856.7" width="13.5" height="7.2"/>
<rect x="320" y="833.5" width="13.5" height="7.2"/>
<rect x="320" y="810.3" width="13.5" height="7.2"/>
<rect x="315.5" y="787.1" width="18" height="7.2"/>
<rect x="320" y="763.8" width="13.5" height="7.2"/>
<rect x="320" y="740.6" width="13.5" height="7.2"/>
<rect x="320" y="717.4" width="13.5" height="7.2"/>
<rect x="320" y="694.2" width="13.5" height="7.2"/>
<rect x="315.5" y="671.0" width="18" height="7.2"/>
<rect x="320" y="647.7" width="13.5" height="7.2"/>
<rect x="320" y="624.5" width="13.5" height="7.2"/>
<rect x="320" y="601.3" width="13.5" height="7.2"/>
<rect x="320" y="578.1" width="13.5" height="7.2"/>
<rect x="315.5" y="554.9" width="18" height="7.2"/>
<rect x="320" y="531.6" width="13.5" height="7.2"/>
<rect x="320" y="508.4" width="13.5" height="7.2"/>
<rect x="320" y="485.2" width="13.5" height="7.2"/>
<rect x="320" y="462.0" width="13.5" height="7.2"/>
<rect x="315.5" y="438.7" width="18" height="7.2"/>
<rect x="320" y="415.5" width="13.5" height="7.2"/>
<rect x="320" y="392.3" width="13.5" height="7.2"/>
<rect x="320" y="369.1" width="13.5" height="7.2"/>
<rect x="320" y="345.9" width="13.5" height="7.2"/>
<rect x="315.5" y="322.6" width="18" height="7.2"/>
<rect x="320" y="299.4" width="13.5" height="7.2"/>
<rect x="320" y="276.2" width="13.5" height="7.2"/>
<rect x="320" y="253.0" width="13.5" height="7.2"/>
<rect x="320" y="229.7" width="13.5" height="7.2"/>
<rect x="315.5" y="206.5" width="18" height="7.2"/>
<rect x="320" y="183.3" width="13.5" height="7.2"/>
<rect x="320" y="160.1" width="13.5" height="7.2"/>
<rect x="320" y="136.9" width="13.5" height="7.2"/>
<rect x="320" y="113.6" width="13.5" height="7.2"/>
<rect x="315.5" y="90.4" width="18" height="7.2"/>
<rect x="329.3" y="1139" width="7.4" height="18"/>
<rect x="392.3" y="1139" width="7.4" height="13"/>
<rect x="455.4" y="1139" width="7.4" height="13"/>
<rect x="518.4" y="1139" width="7.4" height="13"/>
<rect x="581.5" y="1139" width="7.4" height="13"/>
<rect x="644.5" y="1139" width="7.4" height="18"/>
<rect x="707.5" y="1139" width="7.4" height="13"/>
<rect x="770.6" y="1139" width="7.4" height="13"/>
<rect x="833.6" y="1139" width="7.4" height="13"/>
<rect x="896.7" y="1139" width="7.4" height="13"/>
<rect x="959.7" y="1139" width="7.4" height="18"/>
<rect x="1022.7" y="1139" width="7.4" height="13"/>
<rect x="1085.8" y="1139" width="7.4" height="13"/>
<rect x="1148.8" y="1139" width="7.4" height="13"/>
<rect x="1211.9" y="1139" width="7.4" height="13"/>
<rect x="1274.9" y="1139" width="7.4" height="18"/>
<rect x="1337.9" y="1139" width="7.4" height="13"/>
<rect x="1401.0" y="1139" width="7.4" height="13"/>
<rect x="1464.0" y="1139" width="7.4" height="13"/>
<rect x="1527.1" y="1139" width="7.4" height="13"/>
<rect x="1590.1" y="1139" width="7.4" height="18"/>
<rect x="1653.1" y="1139" width="7.4" height="13"/>
<rect x="1716.2" y="1139" width="7.4" height="13"/>
<rect x="1779.2" y="1139" width="7.4" height="13"/>
<rect x="1842.3" y="1139" width="7.4" height="13"/>
<rect x="1905.3" y="1139" width="7.4" height="18"/>
<rect x="1968.3" y="1139" width="7.4" height="13"/>
<rect x="2031.4" y="1139" width="7.4" height="13"/>
<rect x="2094.4" y="1139" width="7.4" height="13"/>
<rect x="2157.5" y="1139" width="7.4" height="13"/>
<rect x="2220.5" y="1139" width="7.4" height="18"/>
</g>
<polygon points="353.3,1054 336.3,1090.8 373.3,1090.8" fill="#f00"/>
<polygon points="336.7,1113.3 374.2,1113.3 357.5,1150.8" fill="#f00"/>
<line x1="354.5" y1="1090" x2="355.8" y2="1114" stroke="#f00" stroke-width="3"/>
<g class="b" font-size="58" text-anchor="end">
<text x="283" y="1156.0">0</text>
<text x="283" y="1039.9">100</text>
<text x="283" y="923.8">200</text>
<text x="283" y="807.7">300</text>
<text x="283" y="691.6">400</text>
<text x="283" y="575.5">500</text>
<text x="283" y="459.3">600</text>
<text x="283" y="343.2">700</text>
<text x="283" y="227.1">800</text>
<text x="283" y="111.0">900</text>
</g>
<g class="b" font-size="58" text-anchor="middle">
<text x="333.0" y="1224.8">0</text>
<text x="648.2" y="1224.8">20</text>
<text x="963.4" y="1224.8">40</text>
<text x="1278.6" y="1224.8">60</text>
<text x="1593.8" y="1224.8">80</text>
<text x="1909.0" y="1224.8">100</text>
<text x="2224.2" y="1224.8">120</text>
</g>
<text class="b" font-size="65" x="1278.7" y="1317" text-anchor="middle">Shear rate (1/s)</text>
<text class="b" font-size="65" transform="translate(164,616) rotate(-90)" text-anchor="middle">Shear stress (Pa)</text>
</svg>
</body></html>
